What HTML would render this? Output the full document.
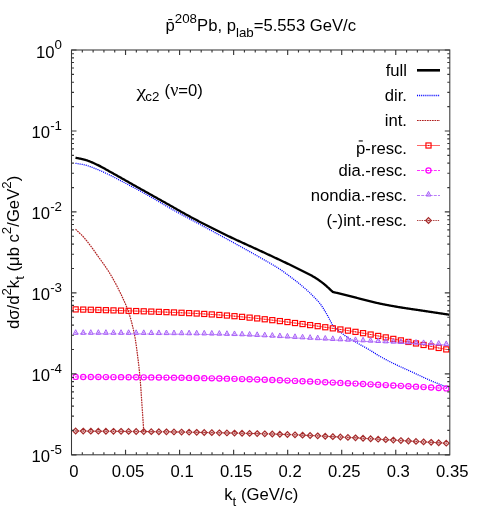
<!DOCTYPE html>
<html><head><meta charset="utf-8"><title>plot</title>
<style>html,body{margin:0;padding:0;background:#fff;font-family:"Liberation Sans",sans-serif}</style></head>
<body>
<svg width="480" height="525" viewBox="0 0 480 525" style="display:block;will-change:transform">
<rect width="480" height="525" fill="#fff"/>
<path d="M75.50 157.70 L76.00 157.81 L76.50 157.92 L77.00 158.02 L77.50 158.12 L78.00 158.22 L78.50 158.32 L79.00 158.42 L79.50 158.52 L80.00 158.63 L80.50 158.73 L81.00 158.83 L81.50 158.94 L82.00 159.05 L82.50 159.16 L83.00 159.28 L83.50 159.40 L84.00 159.53 L84.50 159.66 L85.00 159.80 L85.50 159.95 L86.00 160.10 L86.50 160.26 L87.00 160.42 L87.50 160.60 L88.00 160.78 L88.50 160.96 L89.00 161.15 L89.50 161.35 L90.00 161.54 L90.50 161.75 L91.00 161.96 L91.50 162.17 L92.00 162.39 L92.50 162.60 L93.00 162.83 L93.50 163.05 L94.00 163.28 L94.50 163.51 L95.00 163.74 L95.50 163.97 L96.00 164.20 L96.50 164.43 L97.00 164.67 L97.50 164.90 L98.00 165.14 L98.50 165.38 L99.00 165.62 L99.50 165.88 L100.00 166.13 L100.50 166.39 L101.00 166.66 L101.50 166.93 L102.00 167.20 L102.50 167.47 L103.00 167.75 L103.50 168.03 L104.00 168.31 L104.50 168.59 L105.00 168.87 L105.50 169.16 L106.00 169.44 L106.50 169.73 L107.00 170.01 L107.50 170.30 L108.00 170.58 L108.50 170.86 L109.00 171.14 L109.50 171.42 L110.00 171.70 L110.50 171.98 L111.00 172.25 L111.50 172.53 L112.00 172.81 L112.50 173.09 L113.00 173.36 L113.50 173.64 L114.00 173.92 L114.50 174.20 L115.00 174.48 L115.50 174.76 L116.00 175.04 L116.50 175.32 L117.00 175.60 L117.50 175.88 L118.00 176.16 L118.50 176.45 L119.00 176.73 L119.50 177.01 L120.00 177.29 L120.50 177.57 L121.00 177.85 L121.50 178.14 L122.00 178.42 L122.50 178.70 L123.00 178.98 L123.50 179.26 L124.00 179.55 L124.50 179.83 L125.00 180.12 L125.50 180.40 L126.00 180.68 L126.50 180.97 L127.00 181.25 L127.50 181.54 L128.00 181.82 L128.50 182.11 L129.00 182.39 L129.50 182.68 L130.00 182.96 L130.50 183.25 L131.00 183.53 L131.50 183.82 L132.00 184.10 L132.50 184.38 L133.00 184.67 L133.50 184.95 L134.00 185.24 L134.50 185.52 L135.00 185.80 L135.50 186.08 L136.00 186.36 L136.50 186.64 L137.00 186.93 L137.50 187.21 L138.00 187.49 L138.50 187.77 L139.00 188.05 L139.50 188.33 L140.00 188.61 L140.50 188.89 L141.00 189.17 L141.50 189.45 L142.00 189.73 L142.50 190.00 L143.00 190.28 L143.50 190.56 L144.00 190.84 L144.50 191.12 L145.00 191.40 L145.50 191.68 L146.00 191.96 L146.50 192.24 L147.00 192.52 L147.50 192.80 L148.00 193.08 L148.50 193.36 L149.00 193.64 L149.50 193.92 L150.00 194.20 L150.50 194.48 L151.00 194.76 L151.50 195.04 L152.00 195.32 L152.50 195.60 L153.00 195.88 L153.50 196.16 L154.00 196.44 L154.50 196.72 L155.00 197.00 L155.50 197.28 L156.00 197.56 L156.50 197.84 L157.00 198.12 L157.50 198.40 L158.00 198.68 L158.50 198.96 L159.00 199.24 L159.50 199.52 L160.00 199.80 L160.50 200.08 L161.00 200.36 L161.50 200.64 L162.00 200.92 L162.50 201.20 L163.00 201.48 L163.50 201.75 L164.00 202.03 L164.50 202.31 L165.00 202.59 L165.50 202.87 L166.00 203.15 L166.50 203.43 L167.00 203.71 L167.50 203.99 L168.00 204.27 L168.50 204.55 L169.00 204.83 L169.50 205.11 L170.00 205.39 L170.50 205.67 L171.00 205.95 L171.50 206.23 L172.00 206.52 L172.50 206.80 L173.00 207.08 L173.50 207.37 L174.00 207.66 L174.50 207.94 L175.00 208.23 L175.50 208.52 L176.00 208.81 L176.50 209.10 L177.00 209.39 L177.50 209.68 L178.00 209.96 L178.50 210.25 L179.00 210.54 L179.50 210.82 L180.00 211.10 L180.50 211.38 L181.00 211.66 L181.50 211.94 L182.00 212.22 L182.50 212.50 L183.00 212.78 L183.50 213.06 L184.00 213.33 L184.50 213.61 L185.00 213.89 L185.50 214.16 L186.00 214.44 L186.50 214.72 L187.00 214.99 L187.50 215.26 L188.00 215.54 L188.50 215.81 L189.00 216.08 L189.50 216.36 L190.00 216.63 L190.50 216.90 L191.00 217.17 L191.50 217.44 L192.00 217.71 L192.50 217.97 L193.00 218.24 L193.50 218.51 L194.00 218.77 L194.50 219.04 L195.00 219.30 L195.50 219.56 L196.00 219.83 L196.50 220.09 L197.00 220.35 L197.50 220.61 L198.00 220.87 L198.50 221.14 L199.00 221.40 L199.50 221.66 L200.00 221.92 L200.50 222.18 L201.00 222.44 L201.50 222.69 L202.00 222.95 L202.50 223.21 L203.00 223.47 L203.50 223.73 L204.00 223.98 L204.50 224.24 L205.00 224.50 L205.50 224.75 L206.00 225.01 L206.50 225.27 L207.00 225.52 L207.50 225.78 L208.00 226.03 L208.50 226.28 L209.00 226.54 L209.50 226.79 L210.00 227.04 L210.50 227.30 L211.00 227.55 L211.50 227.80 L212.00 228.05 L212.50 228.30 L213.00 228.56 L213.50 228.81 L214.00 229.06 L214.50 229.31 L215.00 229.56 L215.50 229.81 L216.00 230.06 L216.50 230.30 L217.00 230.55 L217.50 230.80 L218.00 231.05 L218.50 231.30 L219.00 231.54 L219.50 231.79 L220.00 232.04 L220.50 232.28 L221.00 232.53 L221.50 232.77 L222.00 233.02 L222.50 233.26 L223.00 233.51 L223.50 233.75 L224.00 234.00 L224.50 234.24 L225.00 234.48 L225.50 234.73 L226.00 234.97 L226.50 235.21 L227.00 235.45 L227.50 235.70 L228.00 235.94 L228.50 236.18 L229.00 236.42 L229.50 236.66 L230.00 236.90 L230.50 237.14 L231.00 237.38 L231.50 237.62 L232.00 237.85 L232.50 238.09 L233.00 238.33 L233.50 238.56 L234.00 238.80 L234.50 239.03 L235.00 239.27 L235.50 239.50 L236.00 239.73 L236.50 239.96 L237.00 240.20 L237.50 240.43 L238.00 240.66 L238.50 240.89 L239.00 241.12 L239.50 241.35 L240.00 241.58 L240.50 241.81 L241.00 242.04 L241.50 242.26 L242.00 242.49 L242.50 242.72 L243.00 242.95 L243.50 243.17 L244.00 243.40 L244.50 243.63 L245.00 243.86 L245.50 244.08 L246.00 244.31 L246.50 244.54 L247.00 244.76 L247.50 244.99 L248.00 245.22 L248.50 245.44 L249.00 245.67 L249.50 245.90 L250.00 246.12 L250.50 246.35 L251.00 246.58 L251.50 246.80 L252.00 247.03 L252.50 247.26 L253.00 247.48 L253.50 247.71 L254.00 247.94 L254.50 248.17 L255.00 248.40 L255.50 248.63 L256.00 248.85 L256.50 249.08 L257.00 249.31 L257.50 249.54 L258.00 249.77 L258.50 250.00 L259.00 250.24 L259.50 250.47 L260.00 250.70 L260.50 250.93 L261.00 251.16 L261.50 251.40 L262.00 251.63 L262.50 251.86 L263.00 252.09 L263.50 252.33 L264.00 252.56 L264.50 252.79 L265.00 253.02 L265.50 253.26 L266.00 253.49 L266.50 253.72 L267.00 253.95 L267.50 254.19 L268.00 254.42 L268.50 254.65 L269.00 254.88 L269.50 255.12 L270.00 255.35 L270.50 255.58 L271.00 255.82 L271.50 256.05 L272.00 256.28 L272.50 256.51 L273.00 256.75 L273.50 256.98 L274.00 257.22 L274.50 257.45 L275.00 257.68 L275.50 257.92 L276.00 258.15 L276.50 258.39 L277.00 258.62 L277.50 258.86 L278.00 259.09 L278.50 259.33 L279.00 259.56 L279.50 259.80 L280.00 260.03 L280.50 260.27 L281.00 260.50 L281.50 260.74 L282.00 260.98 L282.50 261.21 L283.00 261.45 L283.50 261.69 L284.00 261.93 L284.50 262.16 L285.00 262.40 L285.50 262.64 L286.00 262.88 L286.50 263.12 L287.00 263.36 L287.50 263.60 L288.00 263.84 L288.50 264.08 L289.00 264.32 L289.50 264.56 L290.00 264.80 L290.50 265.04 L291.00 265.28 L291.50 265.52 L292.00 265.77 L292.50 266.01 L293.00 266.25 L293.50 266.49 L294.00 266.73 L294.50 266.97 L295.00 267.22 L295.50 267.46 L296.00 267.70 L296.50 267.95 L297.00 268.19 L297.50 268.44 L298.00 268.68 L298.50 268.93 L299.00 269.17 L299.50 269.42 L300.00 269.67 L300.50 269.92 L301.00 270.17 L301.50 270.42 L302.00 270.67 L302.50 270.92 L303.00 271.18 L303.50 271.43 L304.00 271.69 L304.50 271.94 L305.00 272.20 L305.50 272.46 L306.00 272.71 L306.50 272.97 L307.00 273.23 L307.50 273.48 L308.00 273.74 L308.50 274.00 L309.00 274.26 L309.50 274.52 L310.00 274.78 L310.50 275.04 L311.00 275.31 L311.50 275.58 L312.00 275.86 L312.50 276.13 L313.00 276.42 L313.50 276.70 L314.00 277.00 L314.50 277.30 L315.00 277.60 L315.50 277.91 L316.00 278.23 L316.50 278.55 L317.00 278.88 L317.50 279.21 L318.00 279.55 L318.50 279.89 L319.00 280.24 L319.50 280.59 L320.00 280.95 L320.50 281.32 L321.00 281.69 L321.50 282.06 L322.00 282.44 L322.50 282.82 L323.00 283.21 L323.50 283.60 L324.00 284.00 L324.50 284.41 L325.00 284.83 L325.50 285.25 L326.00 285.69 L326.50 286.13 L327.00 286.58 L327.50 287.04 L328.00 287.50 L328.50 287.96 L329.00 288.43 L329.50 288.89 L330.00 289.36 L330.50 289.83 L331.00 290.30 L331.50 290.76 L332.00 291.22 L332.50 291.67 L332.75 291.90 L332.75 291.90 L333.25 292.02 L333.75 292.14 L334.25 292.26 L334.75 292.39 L335.25 292.51 L335.75 292.63 L336.25 292.75 L336.75 292.87 L337.25 292.99 L337.75 293.11 L338.25 293.23 L338.75 293.35 L339.25 293.47 L339.75 293.59 L340.25 293.71 L340.75 293.83 L341.25 293.95 L341.75 294.07 L342.25 294.19 L342.75 294.31 L343.25 294.44 L343.75 294.56 L344.25 294.68 L344.75 294.80 L345.25 294.92 L345.75 295.05 L346.25 295.17 L346.75 295.29 L347.25 295.41 L347.75 295.54 L348.25 295.66 L348.75 295.79 L349.25 295.91 L349.75 296.04 L350.25 296.16 L350.75 296.29 L351.25 296.42 L351.75 296.55 L352.25 296.67 L352.75 296.80 L353.25 296.93 L353.75 297.06 L354.25 297.20 L354.75 297.33 L355.25 297.46 L355.75 297.59 L356.25 297.72 L356.75 297.86 L357.25 297.99 L357.75 298.12 L358.25 298.25 L358.75 298.38 L359.25 298.52 L359.75 298.65 L360.25 298.78 L360.75 298.91 L361.25 299.04 L361.75 299.17 L362.25 299.30 L362.75 299.43 L363.25 299.56 L363.75 299.69 L364.25 299.81 L364.75 299.94 L365.25 300.06 L365.75 300.19 L366.25 300.31 L366.75 300.44 L367.25 300.56 L367.75 300.69 L368.25 300.82 L368.75 300.94 L369.25 301.07 L369.75 301.19 L370.25 301.32 L370.75 301.44 L371.25 301.57 L371.75 301.69 L372.25 301.81 L372.75 301.93 L373.25 302.06 L373.75 302.18 L374.25 302.30 L374.75 302.42 L375.25 302.54 L375.75 302.65 L376.25 302.77 L376.75 302.88 L377.25 303.00 L377.75 303.11 L378.25 303.22 L378.75 303.33 L379.25 303.44 L379.75 303.55 L380.25 303.65 L380.75 303.76 L381.25 303.86 L381.75 303.96 L382.25 304.07 L382.75 304.17 L383.25 304.27 L383.75 304.37 L384.25 304.47 L384.75 304.57 L385.25 304.66 L385.75 304.76 L386.25 304.86 L386.75 304.95 L387.25 305.05 L387.75 305.14 L388.25 305.24 L388.75 305.33 L389.25 305.42 L389.75 305.52 L390.25 305.61 L390.75 305.70 L391.25 305.79 L391.75 305.88 L392.25 305.97 L392.75 306.06 L393.25 306.15 L393.75 306.23 L394.25 306.32 L394.75 306.41 L395.25 306.50 L395.75 306.58 L396.25 306.67 L396.75 306.75 L397.25 306.84 L397.75 306.92 L398.25 307.01 L398.75 307.09 L399.25 307.18 L399.75 307.26 L400.25 307.34 L400.75 307.42 L401.25 307.50 L401.75 307.59 L402.25 307.67 L402.75 307.74 L403.25 307.82 L403.75 307.90 L404.25 307.98 L404.75 308.06 L405.25 308.13 L405.75 308.21 L406.25 308.28 L406.75 308.36 L407.25 308.43 L407.75 308.51 L408.25 308.58 L408.75 308.66 L409.25 308.73 L409.75 308.80 L410.25 308.87 L410.75 308.95 L411.25 309.02 L411.75 309.09 L412.25 309.17 L412.75 309.24 L413.25 309.31 L413.75 309.38 L414.25 309.46 L414.75 309.53 L415.25 309.60 L415.75 309.67 L416.25 309.75 L416.75 309.82 L417.25 309.89 L417.75 309.97 L418.25 310.04 L418.75 310.11 L419.25 310.19 L419.75 310.26 L420.25 310.34 L420.75 310.41 L421.25 310.49 L421.75 310.56 L422.25 310.64 L422.75 310.71 L423.25 310.79 L423.75 310.86 L424.25 310.94 L424.75 311.01 L425.25 311.09 L425.75 311.17 L426.25 311.24 L426.75 311.32 L427.25 311.39 L427.75 311.47 L428.25 311.54 L428.75 311.62 L429.25 311.69 L429.75 311.77 L430.25 311.84 L430.75 311.92 L431.25 311.99 L431.75 312.07 L432.25 312.14 L432.75 312.22 L433.25 312.30 L433.75 312.37 L434.25 312.45 L434.75 312.52 L435.25 312.60 L435.75 312.67 L436.25 312.75 L436.75 312.82 L437.25 312.90 L437.75 312.97 L438.25 313.05 L438.75 313.12 L439.25 313.20 L439.75 313.28 L440.25 313.35 L440.75 313.43 L441.25 313.50 L441.75 313.58 L442.25 313.65 L442.75 313.73 L443.25 313.80 L443.75 313.88 L444.25 313.95 L444.75 314.03 L445.25 314.10 L445.75 314.18 L446.25 314.26 L446.75 314.33 L447.25 314.41 L447.75 314.48 L448.25 314.56 L448.75 314.63 L449.25 314.71" fill="none" stroke="#000" stroke-width="2.3" stroke-linejoin="round"/>
<path d="M75.50 163.30 L76.00 163.39 L76.50 163.47 L77.00 163.56 L77.50 163.64 L78.00 163.72 L78.50 163.80 L79.00 163.88 L79.50 163.96 L80.00 164.04 L80.50 164.12 L81.00 164.21 L81.50 164.29 L82.00 164.38 L82.50 164.48 L83.00 164.57 L83.50 164.67 L84.00 164.78 L84.50 164.89 L85.00 165.00 L85.50 165.12 L86.00 165.25 L86.50 165.39 L87.00 165.53 L87.50 165.68 L88.00 165.84 L88.50 166.00 L89.00 166.17 L89.50 166.35 L90.00 166.53 L90.50 166.71 L91.00 166.89 L91.50 167.08 L92.00 167.28 L92.50 167.47 L93.00 167.67 L93.50 167.87 L94.00 168.08 L94.50 168.28 L95.00 168.48 L95.50 168.69 L96.00 168.89 L96.50 169.09 L97.00 169.30 L97.50 169.50 L98.00 169.70 L98.50 169.91 L99.00 170.12 L99.50 170.33 L100.00 170.54 L100.50 170.76 L101.00 170.98 L101.50 171.20 L102.00 171.42 L102.50 171.65 L103.00 171.87 L103.50 172.10 L104.00 172.34 L104.50 172.57 L105.00 172.80 L105.50 173.04 L106.00 173.27 L106.50 173.51 L107.00 173.75 L107.50 173.99 L108.00 174.23 L108.50 174.47 L109.00 174.71 L109.50 174.96 L110.00 175.20 L110.50 175.44 L111.00 175.69 L111.50 175.94 L112.00 176.19 L112.50 176.45 L113.00 176.70 L113.50 176.96 L114.00 177.22 L114.50 177.48 L115.00 177.74 L115.50 178.00 L116.00 178.26 L116.50 178.53 L117.00 178.79 L117.50 179.06 L118.00 179.32 L118.50 179.59 L119.00 179.86 L119.50 180.12 L120.00 180.39 L120.50 180.65 L121.00 180.91 L121.50 181.18 L122.00 181.44 L122.50 181.70 L123.00 181.96 L123.50 182.22 L124.00 182.48 L124.50 182.74 L125.00 182.99 L125.50 183.25 L126.00 183.51 L126.50 183.77 L127.00 184.02 L127.50 184.28 L128.00 184.54 L128.50 184.80 L129.00 185.05 L129.50 185.31 L130.00 185.57 L130.50 185.83 L131.00 186.09 L131.50 186.35 L132.00 186.61 L132.50 186.87 L133.00 187.14 L133.50 187.40 L134.00 187.67 L134.50 187.93 L135.00 188.20 L135.50 188.47 L136.00 188.74 L136.50 189.01 L137.00 189.28 L137.50 189.55 L138.00 189.82 L138.50 190.09 L139.00 190.36 L139.50 190.64 L140.00 190.91 L140.50 191.19 L141.00 191.46 L141.50 191.74 L142.00 192.01 L142.50 192.29 L143.00 192.57 L143.50 192.84 L144.00 193.12 L144.50 193.40 L145.00 193.68 L145.50 193.96 L146.00 194.24 L146.50 194.52 L147.00 194.80 L147.50 195.09 L148.00 195.37 L148.50 195.65 L149.00 195.93 L149.50 196.22 L150.00 196.50 L150.50 196.78 L151.00 197.07 L151.50 197.36 L152.00 197.65 L152.50 197.94 L153.00 198.23 L153.50 198.52 L154.00 198.81 L154.50 199.10 L155.00 199.40 L155.50 199.69 L156.00 199.99 L156.50 200.28 L157.00 200.58 L157.50 200.87 L158.00 201.17 L158.50 201.47 L159.00 201.76 L159.50 202.06 L160.00 202.36 L160.50 202.66 L161.00 202.95 L161.50 203.25 L162.00 203.55 L162.50 203.84 L163.00 204.14 L163.50 204.43 L164.00 204.73 L164.50 205.02 L165.00 205.32 L165.50 205.61 L166.00 205.90 L166.50 206.19 L167.00 206.48 L167.50 206.77 L168.00 207.06 L168.50 207.35 L169.00 207.63 L169.50 207.92 L170.00 208.20 L170.50 208.48 L171.00 208.76 L171.50 209.04 L172.00 209.32 L172.50 209.60 L173.00 209.88 L173.50 210.16 L174.00 210.44 L174.50 210.72 L175.00 210.99 L175.50 211.27 L176.00 211.54 L176.50 211.82 L177.00 212.09 L177.50 212.37 L178.00 212.64 L178.50 212.91 L179.00 213.19 L179.50 213.46 L180.00 213.73 L180.50 214.00 L181.00 214.28 L181.50 214.55 L182.00 214.82 L182.50 215.09 L183.00 215.36 L183.50 215.63 L184.00 215.90 L184.50 216.17 L185.00 216.44 L185.50 216.71 L186.00 216.97 L186.50 217.24 L187.00 217.51 L187.50 217.78 L188.00 218.05 L188.50 218.32 L189.00 218.59 L189.50 218.85 L190.00 219.12 L190.50 219.39 L191.00 219.66 L191.50 219.93 L192.00 220.19 L192.50 220.46 L193.00 220.73 L193.50 221.00 L194.00 221.27 L194.50 221.54 L195.00 221.80 L195.50 222.07 L196.00 222.34 L196.50 222.61 L197.00 222.88 L197.50 223.15 L198.00 223.42 L198.50 223.69 L199.00 223.96 L199.50 224.23 L200.00 224.50 L200.50 224.77 L201.00 225.04 L201.50 225.31 L202.00 225.58 L202.50 225.85 L203.00 226.12 L203.50 226.39 L204.00 226.66 L204.50 226.93 L205.00 227.20 L205.50 227.47 L206.00 227.74 L206.50 228.01 L207.00 228.27 L207.50 228.54 L208.00 228.81 L208.50 229.08 L209.00 229.35 L209.50 229.62 L210.00 229.89 L210.50 230.15 L211.00 230.42 L211.50 230.69 L212.00 230.96 L212.50 231.23 L213.00 231.50 L213.50 231.76 L214.00 232.03 L214.50 232.30 L215.00 232.57 L215.50 232.84 L216.00 233.11 L216.50 233.38 L217.00 233.64 L217.50 233.91 L218.00 234.18 L218.50 234.45 L219.00 234.72 L219.50 234.99 L220.00 235.26 L220.50 235.53 L221.00 235.80 L221.50 236.07 L222.00 236.34 L222.50 236.61 L223.00 236.88 L223.50 237.15 L224.00 237.42 L224.50 237.70 L225.00 237.97 L225.50 238.24 L226.00 238.51 L226.50 238.78 L227.00 239.06 L227.50 239.33 L228.00 239.60 L228.50 239.88 L229.00 240.15 L229.50 240.43 L230.00 240.70 L230.50 240.97 L231.00 241.25 L231.50 241.53 L232.00 241.80 L232.50 242.08 L233.00 242.35 L233.50 242.63 L234.00 242.90 L234.50 243.18 L235.00 243.45 L235.50 243.73 L236.00 244.01 L236.50 244.28 L237.00 244.56 L237.50 244.84 L238.00 245.11 L238.50 245.39 L239.00 245.67 L239.50 245.94 L240.00 246.22 L240.50 246.50 L241.00 246.78 L241.50 247.05 L242.00 247.33 L242.50 247.61 L243.00 247.89 L243.50 248.17 L244.00 248.45 L244.50 248.72 L245.00 249.00 L245.50 249.28 L246.00 249.56 L246.50 249.84 L247.00 250.12 L247.50 250.40 L248.00 250.68 L248.50 250.96 L249.00 251.25 L249.50 251.53 L250.00 251.81 L250.50 252.09 L251.00 252.37 L251.50 252.65 L252.00 252.94 L252.50 253.22 L253.00 253.50 L253.50 253.79 L254.00 254.07 L254.50 254.35 L255.00 254.64 L255.50 254.92 L256.00 255.21 L256.50 255.49 L257.00 255.78 L257.50 256.07 L258.00 256.35 L258.50 256.64 L259.00 256.93 L259.50 257.21 L260.00 257.50 L260.50 257.79 L261.00 258.07 L261.50 258.36 L262.00 258.64 L262.50 258.93 L263.00 259.21 L263.50 259.50 L264.00 259.78 L264.50 260.06 L265.00 260.35 L265.50 260.63 L266.00 260.91 L266.50 261.20 L267.00 261.48 L267.50 261.77 L268.00 262.05 L268.50 262.34 L269.00 262.62 L269.50 262.91 L270.00 263.20 L270.50 263.49 L271.00 263.78 L271.50 264.07 L272.00 264.36 L272.50 264.66 L273.00 264.95 L273.50 265.25 L274.00 265.55 L274.50 265.85 L275.00 266.15 L275.50 266.46 L276.00 266.76 L276.50 267.07 L277.00 267.38 L277.50 267.70 L278.00 268.01 L278.50 268.33 L279.00 268.65 L279.50 268.97 L280.00 269.30 L280.50 269.63 L281.00 269.97 L281.50 270.30 L282.00 270.65 L282.50 271.00 L283.00 271.35 L283.50 271.70 L284.00 272.06 L284.50 272.42 L285.00 272.78 L285.50 273.15 L286.00 273.52 L286.50 273.89 L287.00 274.26 L287.50 274.63 L288.00 275.00 L288.50 275.38 L289.00 275.75 L289.50 276.13 L290.00 276.50 L290.50 276.87 L291.00 277.25 L291.50 277.63 L292.00 278.00 L292.50 278.38 L293.00 278.76 L293.50 279.14 L294.00 279.52 L294.50 279.90 L295.00 280.28 L295.50 280.67 L296.00 281.05 L296.50 281.44 L297.00 281.83 L297.50 282.22 L298.00 282.62 L298.50 283.02 L299.00 283.42 L299.50 283.82 L300.00 284.22 L300.50 284.63 L301.00 285.04 L301.50 285.46 L302.00 285.88 L302.50 286.30 L303.00 286.73 L303.50 287.15 L304.00 287.59 L304.50 288.02 L305.00 288.46 L305.50 288.90 L306.00 289.35 L306.50 289.80 L307.00 290.25 L307.50 290.71 L308.00 291.17 L308.50 291.63 L309.00 292.10 L309.50 292.58 L310.00 293.05 L310.50 293.53 L311.00 294.02 L311.50 294.51 L312.00 295.00 L312.50 295.49 L313.00 295.99 L313.50 296.48 L314.00 296.98 L314.50 297.48 L315.00 297.98 L315.50 298.49 L316.00 299.01 L316.50 299.54 L317.00 300.08 L317.50 300.63 L318.00 301.19 L318.50 301.77 L319.00 302.36 L319.50 302.97 L320.00 303.60 L320.50 304.26 L321.00 304.94 L321.50 305.65 L322.00 306.39 L322.50 307.15 L323.00 307.93 L323.50 308.72 L324.00 309.53 L324.50 310.36 L325.00 311.19 L325.50 312.03 L326.00 312.88 L326.50 313.73 L327.00 314.60 L327.50 315.50 L328.00 316.42 L328.50 317.35 L329.00 318.30 L329.50 319.25 L330.00 320.22 L330.50 321.18 L331.00 322.14 L331.50 323.10 L332.00 324.06 L332.50 325.00 L332.50 325.00 L333.00 325.43 L333.50 325.86 L334.00 326.30 L334.50 326.74 L335.00 327.18 L335.50 327.62 L336.00 328.07 L336.50 328.52 L337.00 328.97 L337.50 329.41 L338.00 329.86 L338.50 330.31 L339.00 330.75 L339.50 331.19 L340.00 331.62 L340.50 332.05 L341.00 332.48 L341.50 332.90 L342.00 333.31 L342.50 333.71 L343.00 334.11 L343.50 334.50 L344.00 334.87 L344.50 335.24 L345.00 335.60 L345.50 335.95 L346.00 336.29 L346.50 336.62 L347.00 336.95 L347.50 337.27 L348.00 337.59 L348.50 337.90 L349.00 338.20 L349.50 338.51 L350.00 338.80 L350.50 339.10 L351.00 339.39 L351.50 339.68 L352.00 339.97 L352.50 340.25 L353.00 340.54 L353.50 340.82 L354.00 341.10 L354.50 341.38 L355.00 341.67 L355.50 341.95 L356.00 342.24 L356.50 342.52 L357.00 342.81 L357.50 343.10 L358.00 343.39 L358.50 343.68 L359.00 343.97 L359.50 344.25 L360.00 344.53 L360.50 344.82 L361.00 345.10 L361.50 345.38 L362.00 345.66 L362.50 345.94 L363.00 346.22 L363.50 346.49 L364.00 346.77 L364.50 347.05 L365.00 347.33 L365.50 347.61 L366.00 347.89 L366.50 348.18 L367.00 348.46 L367.50 348.74 L368.00 349.03 L368.50 349.32 L369.00 349.61 L369.50 349.90 L370.00 350.20 L370.50 350.50 L371.00 350.80 L371.50 351.11 L372.00 351.42 L372.50 351.74 L373.00 352.05 L373.50 352.37 L374.00 352.69 L374.50 353.01 L375.00 353.33 L375.50 353.65 L376.00 353.97 L376.50 354.28 L377.00 354.60 L377.50 354.91 L378.00 355.22 L378.50 355.52 L379.00 355.82 L379.50 356.11 L380.00 356.40 L380.50 356.68 L381.00 356.96 L381.50 357.24 L382.00 357.52 L382.50 357.80 L383.00 358.07 L383.50 358.34 L384.00 358.61 L384.50 358.88 L385.00 359.15 L385.50 359.41 L386.00 359.67 L386.50 359.93 L387.00 360.19 L387.50 360.45 L388.00 360.71 L388.50 360.97 L389.00 361.22 L389.50 361.48 L390.00 361.73 L390.50 361.98 L391.00 362.23 L391.50 362.48 L392.00 362.73 L392.50 362.97 L393.00 363.22 L393.50 363.47 L394.00 363.71 L394.50 363.96 L395.00 364.20 L395.50 364.44 L396.00 364.68 L396.50 364.92 L397.00 365.16 L397.50 365.40 L398.00 365.63 L398.50 365.86 L399.00 366.10 L399.50 366.33 L400.00 366.56 L400.50 366.78 L401.00 367.01 L401.50 367.24 L402.00 367.47 L402.50 367.69 L403.00 367.92 L403.50 368.14 L404.00 368.36 L404.50 368.59 L405.00 368.81 L405.50 369.04 L406.00 369.26 L406.50 369.48 L407.00 369.71 L407.50 369.93 L408.00 370.16 L408.50 370.38 L409.00 370.61 L409.50 370.83 L410.00 371.06 L410.50 371.29 L411.00 371.52 L411.50 371.75 L412.00 371.98 L412.50 372.21 L413.00 372.44 L413.50 372.67 L414.00 372.91 L414.50 373.14 L415.00 373.38 L415.50 373.61 L416.00 373.85 L416.50 374.08 L417.00 374.32 L417.50 374.55 L418.00 374.79 L418.50 375.03 L419.00 375.26 L419.50 375.50 L420.00 375.74 L420.50 375.97 L421.00 376.21 L421.50 376.44 L422.00 376.68 L422.50 376.91 L423.00 377.14 L423.50 377.37 L424.00 377.61 L424.50 377.84 L425.00 378.07 L425.50 378.30 L426.00 378.52 L426.50 378.75 L427.00 378.98 L427.50 379.20 L428.00 379.42 L428.50 379.64 L429.00 379.86 L429.50 380.08 L430.00 380.30 L430.50 380.52 L431.00 380.73 L431.50 380.94 L432.00 381.15 L432.50 381.36 L433.00 381.57 L433.50 381.78 L434.00 381.99 L434.50 382.19 L435.00 382.40 L435.50 382.60 L436.00 382.80 L436.50 383.00 L437.00 383.21 L437.50 383.41 L438.00 383.61 L438.50 383.81 L439.00 384.01 L439.50 384.21 L440.00 384.41 L440.50 384.60 L441.00 384.80 L441.50 385.00 L442.00 385.20 L442.50 385.40 L443.00 385.60 L443.50 385.80 L444.00 385.99 L444.50 386.19 L445.00 386.39 L445.50 386.59 L446.00 386.79 L446.50 387.00 L447.00 387.20 L447.50 387.40" fill="none" stroke="#0000ff" stroke-width="1.3" stroke-dasharray="1.05 1.03"/>
<path d="M75.50 229.20 L75.75 229.44 L76.00 229.68 L76.25 229.92 L76.50 230.16 L76.75 230.40 L77.00 230.63 L77.25 230.87 L77.50 231.10 L77.75 231.34 L78.00 231.57 L78.25 231.80 L78.50 232.04 L78.75 232.27 L79.00 232.51 L79.25 232.74 L79.50 232.98 L79.75 233.21 L80.00 233.45 L80.25 233.69 L80.50 233.93 L80.75 234.18 L81.00 234.42 L81.25 234.67 L81.50 234.92 L81.75 235.17 L82.00 235.42 L82.25 235.68 L82.50 235.94 L82.75 236.21 L83.00 236.47 L83.25 236.75 L83.50 237.02 L83.75 237.30 L84.00 237.58 L84.25 237.87 L84.50 238.16 L84.75 238.45 L85.00 238.75 L85.25 239.05 L85.50 239.35 L85.75 239.65 L86.00 239.96 L86.25 240.27 L86.50 240.58 L86.75 240.89 L87.00 241.21 L87.25 241.53 L87.50 241.85 L87.75 242.17 L88.00 242.49 L88.25 242.82 L88.50 243.14 L88.75 243.47 L89.00 243.80 L89.25 244.12 L89.50 244.45 L89.75 244.78 L90.00 245.11 L90.25 245.44 L90.50 245.77 L90.75 246.10 L91.00 246.43 L91.25 246.76 L91.50 247.10 L91.75 247.43 L92.00 247.77 L92.25 248.11 L92.50 248.45 L92.75 248.80 L93.00 249.14 L93.25 249.49 L93.50 249.84 L93.75 250.19 L94.00 250.54 L94.25 250.89 L94.50 251.24 L94.75 251.59 L95.00 251.95 L95.25 252.30 L95.50 252.65 L95.75 253.01 L96.00 253.37 L96.25 253.72 L96.50 254.08 L96.75 254.43 L97.00 254.79 L97.25 255.14 L97.50 255.50 L97.75 255.85 L98.00 256.21 L98.25 256.56 L98.50 256.91 L98.75 257.26 L99.00 257.61 L99.25 257.96 L99.50 258.31 L99.75 258.66 L100.00 259.01 L100.25 259.35 L100.50 259.70 L100.75 260.05 L101.00 260.40 L101.25 260.74 L101.50 261.09 L101.75 261.44 L102.00 261.79 L102.25 262.14 L102.50 262.48 L102.75 262.83 L103.00 263.18 L103.25 263.54 L103.50 263.89 L103.75 264.24 L104.00 264.60 L104.25 264.95 L104.50 265.31 L104.75 265.67 L105.00 266.03 L105.25 266.39 L105.50 266.75 L105.75 267.12 L106.00 267.49 L106.25 267.86 L106.50 268.23 L106.75 268.60 L107.00 268.98 L107.25 269.35 L107.50 269.74 L107.75 270.12 L108.00 270.50 L108.25 270.89 L108.50 271.28 L108.75 271.68 L109.00 272.08 L109.25 272.48 L109.50 272.88 L109.75 273.29 L110.00 273.70 L110.25 274.11 L110.50 274.53 L110.75 274.95 L111.00 275.37 L111.25 275.79 L111.50 276.22 L111.75 276.65 L112.00 277.08 L112.25 277.51 L112.50 277.95 L112.75 278.39 L113.00 278.83 L113.25 279.28 L113.50 279.72 L113.75 280.17 L114.00 280.62 L114.25 281.08 L114.50 281.53 L114.75 281.99 L115.00 282.46 L115.25 282.92 L115.50 283.39 L115.75 283.86 L116.00 284.33 L116.25 284.80 L116.50 285.28 L116.75 285.76 L117.00 286.24 L117.25 286.73 L117.50 287.21 L117.75 287.70 L118.00 288.20 L118.25 288.69 L118.50 289.19 L118.75 289.69 L119.00 290.19 L119.25 290.70 L119.50 291.21 L119.75 291.72 L120.00 292.23 L120.25 292.74 L120.50 293.26 L120.75 293.78 L121.00 294.31 L121.25 294.83 L121.50 295.36 L121.75 295.89 L122.00 296.43 L122.25 296.96 L122.50 297.50 L122.75 298.04 L123.00 298.58 L123.25 299.12 L123.50 299.66 L123.75 300.20 L124.00 300.74 L124.25 301.29 L124.50 301.85 L124.75 302.40 L125.00 302.97 L125.25 303.54 L125.50 304.11 L125.75 304.70 L126.00 305.29 L126.25 305.90 L126.50 306.51 L126.75 307.14 L127.00 307.78 L127.25 308.43 L127.50 309.09 L127.75 309.77 L128.00 310.47 L128.25 311.18 L128.50 311.90 L128.75 312.65 L129.00 313.41 L129.25 314.18 L129.50 314.97 L129.75 315.77 L130.00 316.59 L130.25 317.43 L130.50 318.28 L130.75 319.15 L131.00 320.04 L131.25 320.95 L131.50 321.87 L131.75 322.83 L132.00 323.80 L132.25 324.79 L132.50 325.81 L132.75 326.86 L133.00 327.93 L133.25 329.02 L133.50 330.15 L133.75 331.30 L134.00 332.48 L134.25 333.69 L134.50 334.93 L134.75 336.20 L135.00 337.50 L135.25 338.88 L135.50 340.38 L135.75 341.98 L136.00 343.67 L136.25 345.44 L136.50 347.27 L136.75 349.16 L137.00 351.08 L137.25 353.03 L137.50 355.00 L137.75 356.98 L138.00 358.98 L138.25 361.03 L138.50 363.12 L138.75 365.28 L139.00 367.52 L139.25 369.85 L139.50 372.28 L139.75 374.83 L140.00 377.50 L140.25 380.39 L140.50 383.53 L140.75 386.88 L141.00 390.39 L141.25 394.01 L141.50 397.68 L141.75 401.36 L142.00 405.00 L142.25 408.64 L142.50 412.36 L142.75 416.13 L143.00 419.94 L143.25 423.76 L143.50 427.57 L143.74 431.20" fill="none" stroke="#b02020" stroke-width="1.2" stroke-dasharray="1.7 0.8"/>
<path d="M75.67 309.40 L83.23 309.58 L90.80 309.76 L98.36 309.96 L105.92 310.17 L113.48 310.38 L121.05 310.60 L128.61 310.83 L136.17 311.07 L143.74 311.31 L151.30 311.57 L158.86 311.85 L166.43 312.14 L173.99 312.44 L181.55 312.77 L189.12 313.12 L196.68 313.52 L204.24 313.95 L211.80 314.43 L219.37 314.95 L226.93 315.53 L234.49 316.18 L242.06 316.87 L249.62 317.62 L257.18 318.42 L264.75 319.27 L272.31 320.15 L279.87 321.08 L287.43 322.04 L295.00 323.03 L302.56 324.05 L310.12 325.10 L317.69 326.16 L325.25 327.25 L332.81 328.35 L340.38 329.46 L347.94 330.62 L355.50 331.85 L363.06 333.16 L370.63 334.53 L378.19 335.95 L385.75 337.40 L393.32 338.89 L400.88 340.40 L408.44 341.93 L416.00 343.45 L423.57 344.97 L431.13 346.48 L438.69 347.96 L446.26 349.40" fill="none" stroke="#ff0000" stroke-width="0.60" />
<rect x="73.12" y="306.85" width="5.10" height="5.10" fill="none" stroke="#ff0000" stroke-width="1.15"/>
<rect x="75.17" y="308.90" width="1" height="1" fill="#ff0000"/>
<rect x="80.68" y="307.03" width="5.10" height="5.10" fill="none" stroke="#ff0000" stroke-width="1.15"/>
<rect x="82.73" y="309.08" width="1" height="1" fill="#ff0000"/>
<rect x="88.25" y="307.21" width="5.10" height="5.10" fill="none" stroke="#ff0000" stroke-width="1.15"/>
<rect x="90.30" y="309.26" width="1" height="1" fill="#ff0000"/>
<rect x="95.81" y="307.41" width="5.10" height="5.10" fill="none" stroke="#ff0000" stroke-width="1.15"/>
<rect x="97.86" y="309.46" width="1" height="1" fill="#ff0000"/>
<rect x="103.37" y="307.62" width="5.10" height="5.10" fill="none" stroke="#ff0000" stroke-width="1.15"/>
<rect x="105.42" y="309.67" width="1" height="1" fill="#ff0000"/>
<rect x="110.94" y="307.83" width="5.10" height="5.10" fill="none" stroke="#ff0000" stroke-width="1.15"/>
<rect x="112.98" y="309.88" width="1" height="1" fill="#ff0000"/>
<rect x="118.50" y="308.05" width="5.10" height="5.10" fill="none" stroke="#ff0000" stroke-width="1.15"/>
<rect x="120.55" y="310.10" width="1" height="1" fill="#ff0000"/>
<rect x="126.06" y="308.28" width="5.10" height="5.10" fill="none" stroke="#ff0000" stroke-width="1.15"/>
<rect x="128.11" y="310.33" width="1" height="1" fill="#ff0000"/>
<rect x="133.62" y="308.52" width="5.10" height="5.10" fill="none" stroke="#ff0000" stroke-width="1.15"/>
<rect x="135.67" y="310.57" width="1" height="1" fill="#ff0000"/>
<rect x="141.19" y="308.76" width="5.10" height="5.10" fill="none" stroke="#ff0000" stroke-width="1.15"/>
<rect x="143.24" y="310.81" width="1" height="1" fill="#ff0000"/>
<rect x="148.75" y="309.02" width="5.10" height="5.10" fill="none" stroke="#ff0000" stroke-width="1.15"/>
<rect x="150.80" y="311.07" width="1" height="1" fill="#ff0000"/>
<rect x="156.31" y="309.30" width="5.10" height="5.10" fill="none" stroke="#ff0000" stroke-width="1.15"/>
<rect x="158.36" y="311.35" width="1" height="1" fill="#ff0000"/>
<rect x="163.88" y="309.59" width="5.10" height="5.10" fill="none" stroke="#ff0000" stroke-width="1.15"/>
<rect x="165.93" y="311.64" width="1" height="1" fill="#ff0000"/>
<rect x="171.44" y="309.89" width="5.10" height="5.10" fill="none" stroke="#ff0000" stroke-width="1.15"/>
<rect x="173.49" y="311.94" width="1" height="1" fill="#ff0000"/>
<rect x="179.00" y="310.22" width="5.10" height="5.10" fill="none" stroke="#ff0000" stroke-width="1.15"/>
<rect x="181.05" y="312.27" width="1" height="1" fill="#ff0000"/>
<rect x="186.56" y="310.57" width="5.10" height="5.10" fill="none" stroke="#ff0000" stroke-width="1.15"/>
<rect x="188.62" y="312.62" width="1" height="1" fill="#ff0000"/>
<rect x="194.13" y="310.97" width="5.10" height="5.10" fill="none" stroke="#ff0000" stroke-width="1.15"/>
<rect x="196.18" y="313.02" width="1" height="1" fill="#ff0000"/>
<rect x="201.69" y="311.40" width="5.10" height="5.10" fill="none" stroke="#ff0000" stroke-width="1.15"/>
<rect x="203.74" y="313.45" width="1" height="1" fill="#ff0000"/>
<rect x="209.25" y="311.88" width="5.10" height="5.10" fill="none" stroke="#ff0000" stroke-width="1.15"/>
<rect x="211.30" y="313.93" width="1" height="1" fill="#ff0000"/>
<rect x="216.82" y="312.40" width="5.10" height="5.10" fill="none" stroke="#ff0000" stroke-width="1.15"/>
<rect x="218.87" y="314.45" width="1" height="1" fill="#ff0000"/>
<rect x="224.38" y="312.98" width="5.10" height="5.10" fill="none" stroke="#ff0000" stroke-width="1.15"/>
<rect x="226.43" y="315.03" width="1" height="1" fill="#ff0000"/>
<rect x="231.94" y="313.63" width="5.10" height="5.10" fill="none" stroke="#ff0000" stroke-width="1.15"/>
<rect x="233.99" y="315.68" width="1" height="1" fill="#ff0000"/>
<rect x="239.51" y="314.32" width="5.10" height="5.10" fill="none" stroke="#ff0000" stroke-width="1.15"/>
<rect x="241.56" y="316.37" width="1" height="1" fill="#ff0000"/>
<rect x="247.07" y="315.07" width="5.10" height="5.10" fill="none" stroke="#ff0000" stroke-width="1.15"/>
<rect x="249.12" y="317.12" width="1" height="1" fill="#ff0000"/>
<rect x="254.63" y="315.87" width="5.10" height="5.10" fill="none" stroke="#ff0000" stroke-width="1.15"/>
<rect x="256.68" y="317.92" width="1" height="1" fill="#ff0000"/>
<rect x="262.19" y="316.72" width="5.10" height="5.10" fill="none" stroke="#ff0000" stroke-width="1.15"/>
<rect x="264.25" y="318.77" width="1" height="1" fill="#ff0000"/>
<rect x="269.76" y="317.60" width="5.10" height="5.10" fill="none" stroke="#ff0000" stroke-width="1.15"/>
<rect x="271.81" y="319.65" width="1" height="1" fill="#ff0000"/>
<rect x="277.32" y="318.53" width="5.10" height="5.10" fill="none" stroke="#ff0000" stroke-width="1.15"/>
<rect x="279.37" y="320.58" width="1" height="1" fill="#ff0000"/>
<rect x="284.88" y="319.49" width="5.10" height="5.10" fill="none" stroke="#ff0000" stroke-width="1.15"/>
<rect x="286.93" y="321.54" width="1" height="1" fill="#ff0000"/>
<rect x="292.45" y="320.48" width="5.10" height="5.10" fill="none" stroke="#ff0000" stroke-width="1.15"/>
<rect x="294.50" y="322.53" width="1" height="1" fill="#ff0000"/>
<rect x="300.01" y="321.50" width="5.10" height="5.10" fill="none" stroke="#ff0000" stroke-width="1.15"/>
<rect x="302.06" y="323.55" width="1" height="1" fill="#ff0000"/>
<rect x="307.57" y="322.55" width="5.10" height="5.10" fill="none" stroke="#ff0000" stroke-width="1.15"/>
<rect x="309.62" y="324.60" width="1" height="1" fill="#ff0000"/>
<rect x="315.14" y="323.61" width="5.10" height="5.10" fill="none" stroke="#ff0000" stroke-width="1.15"/>
<rect x="317.19" y="325.66" width="1" height="1" fill="#ff0000"/>
<rect x="322.70" y="324.70" width="5.10" height="5.10" fill="none" stroke="#ff0000" stroke-width="1.15"/>
<rect x="324.75" y="326.75" width="1" height="1" fill="#ff0000"/>
<rect x="330.26" y="325.80" width="5.10" height="5.10" fill="none" stroke="#ff0000" stroke-width="1.15"/>
<rect x="332.31" y="327.85" width="1" height="1" fill="#ff0000"/>
<rect x="337.82" y="326.91" width="5.10" height="5.10" fill="none" stroke="#ff0000" stroke-width="1.15"/>
<rect x="339.88" y="328.96" width="1" height="1" fill="#ff0000"/>
<rect x="345.39" y="328.07" width="5.10" height="5.10" fill="none" stroke="#ff0000" stroke-width="1.15"/>
<rect x="347.44" y="330.12" width="1" height="1" fill="#ff0000"/>
<rect x="352.95" y="329.30" width="5.10" height="5.10" fill="none" stroke="#ff0000" stroke-width="1.15"/>
<rect x="355.00" y="331.35" width="1" height="1" fill="#ff0000"/>
<rect x="360.51" y="330.61" width="5.10" height="5.10" fill="none" stroke="#ff0000" stroke-width="1.15"/>
<rect x="362.56" y="332.66" width="1" height="1" fill="#ff0000"/>
<rect x="368.08" y="331.98" width="5.10" height="5.10" fill="none" stroke="#ff0000" stroke-width="1.15"/>
<rect x="370.13" y="334.03" width="1" height="1" fill="#ff0000"/>
<rect x="375.64" y="333.40" width="5.10" height="5.10" fill="none" stroke="#ff0000" stroke-width="1.15"/>
<rect x="377.69" y="335.45" width="1" height="1" fill="#ff0000"/>
<rect x="383.20" y="334.85" width="5.10" height="5.10" fill="none" stroke="#ff0000" stroke-width="1.15"/>
<rect x="385.25" y="336.90" width="1" height="1" fill="#ff0000"/>
<rect x="390.77" y="336.34" width="5.10" height="5.10" fill="none" stroke="#ff0000" stroke-width="1.15"/>
<rect x="392.82" y="338.39" width="1" height="1" fill="#ff0000"/>
<rect x="398.33" y="337.85" width="5.10" height="5.10" fill="none" stroke="#ff0000" stroke-width="1.15"/>
<rect x="400.38" y="339.90" width="1" height="1" fill="#ff0000"/>
<rect x="405.89" y="339.38" width="5.10" height="5.10" fill="none" stroke="#ff0000" stroke-width="1.15"/>
<rect x="407.94" y="341.43" width="1" height="1" fill="#ff0000"/>
<rect x="413.45" y="340.90" width="5.10" height="5.10" fill="none" stroke="#ff0000" stroke-width="1.15"/>
<rect x="415.50" y="342.95" width="1" height="1" fill="#ff0000"/>
<rect x="421.02" y="342.42" width="5.10" height="5.10" fill="none" stroke="#ff0000" stroke-width="1.15"/>
<rect x="423.07" y="344.47" width="1" height="1" fill="#ff0000"/>
<rect x="428.58" y="343.93" width="5.10" height="5.10" fill="none" stroke="#ff0000" stroke-width="1.15"/>
<rect x="430.63" y="345.98" width="1" height="1" fill="#ff0000"/>
<rect x="436.14" y="345.41" width="5.10" height="5.10" fill="none" stroke="#ff0000" stroke-width="1.15"/>
<rect x="438.19" y="347.46" width="1" height="1" fill="#ff0000"/>
<rect x="443.71" y="346.85" width="5.10" height="5.10" fill="none" stroke="#ff0000" stroke-width="1.15"/>
<rect x="445.76" y="348.90" width="1" height="1" fill="#ff0000"/>
<path d="M75.67 376.90 L83.23 376.95 L90.80 377.00 L98.36 377.05 L105.92 377.09 L113.48 377.14 L121.05 377.19 L128.61 377.24 L136.17 377.29 L143.74 377.35 L151.30 377.42 L158.86 377.49 L166.43 377.57 L173.99 377.67 L181.55 377.78 L189.12 377.90 L196.68 378.03 L204.24 378.18 L211.80 378.33 L219.37 378.49 L226.93 378.66 L234.49 378.85 L242.06 379.06 L249.62 379.28 L257.18 379.52 L264.75 379.77 L272.31 380.03 L279.87 380.30 L287.43 380.58 L295.00 380.88 L302.56 381.20 L310.12 381.53 L317.69 381.87 L325.25 382.22 L332.81 382.57 L340.38 382.92 L347.94 383.26 L355.50 383.62 L363.06 383.97 L370.63 384.33 L378.19 384.70 L385.75 385.07 L393.32 385.46 L400.88 385.85 L408.44 386.25 L416.00 386.67 L423.57 387.10 L431.13 387.54 L438.69 387.97 L446.26 388.40" fill="none" stroke="#ff00ff" stroke-width="0.80" stroke-dasharray="3 1.2"/>
<circle cx="75.67" cy="376.90" r="2.60" fill="none" stroke="#ff00ff" stroke-width="1.15"/>
<rect x="75.17" y="376.40" width="1" height="1" fill="#ff00ff"/>
<circle cx="83.23" cy="376.95" r="2.60" fill="none" stroke="#ff00ff" stroke-width="1.15"/>
<rect x="82.73" y="376.45" width="1" height="1" fill="#ff00ff"/>
<circle cx="90.80" cy="377.00" r="2.60" fill="none" stroke="#ff00ff" stroke-width="1.15"/>
<rect x="90.30" y="376.50" width="1" height="1" fill="#ff00ff"/>
<circle cx="98.36" cy="377.05" r="2.60" fill="none" stroke="#ff00ff" stroke-width="1.15"/>
<rect x="97.86" y="376.55" width="1" height="1" fill="#ff00ff"/>
<circle cx="105.92" cy="377.09" r="2.60" fill="none" stroke="#ff00ff" stroke-width="1.15"/>
<rect x="105.42" y="376.59" width="1" height="1" fill="#ff00ff"/>
<circle cx="113.48" cy="377.14" r="2.60" fill="none" stroke="#ff00ff" stroke-width="1.15"/>
<rect x="112.98" y="376.64" width="1" height="1" fill="#ff00ff"/>
<circle cx="121.05" cy="377.19" r="2.60" fill="none" stroke="#ff00ff" stroke-width="1.15"/>
<rect x="120.55" y="376.69" width="1" height="1" fill="#ff00ff"/>
<circle cx="128.61" cy="377.24" r="2.60" fill="none" stroke="#ff00ff" stroke-width="1.15"/>
<rect x="128.11" y="376.74" width="1" height="1" fill="#ff00ff"/>
<circle cx="136.17" cy="377.29" r="2.60" fill="none" stroke="#ff00ff" stroke-width="1.15"/>
<rect x="135.67" y="376.79" width="1" height="1" fill="#ff00ff"/>
<circle cx="143.74" cy="377.35" r="2.60" fill="none" stroke="#ff00ff" stroke-width="1.15"/>
<rect x="143.24" y="376.85" width="1" height="1" fill="#ff00ff"/>
<circle cx="151.30" cy="377.42" r="2.60" fill="none" stroke="#ff00ff" stroke-width="1.15"/>
<rect x="150.80" y="376.92" width="1" height="1" fill="#ff00ff"/>
<circle cx="158.86" cy="377.49" r="2.60" fill="none" stroke="#ff00ff" stroke-width="1.15"/>
<rect x="158.36" y="376.99" width="1" height="1" fill="#ff00ff"/>
<circle cx="166.43" cy="377.57" r="2.60" fill="none" stroke="#ff00ff" stroke-width="1.15"/>
<rect x="165.93" y="377.07" width="1" height="1" fill="#ff00ff"/>
<circle cx="173.99" cy="377.67" r="2.60" fill="none" stroke="#ff00ff" stroke-width="1.15"/>
<rect x="173.49" y="377.17" width="1" height="1" fill="#ff00ff"/>
<circle cx="181.55" cy="377.78" r="2.60" fill="none" stroke="#ff00ff" stroke-width="1.15"/>
<rect x="181.05" y="377.28" width="1" height="1" fill="#ff00ff"/>
<circle cx="189.12" cy="377.90" r="2.60" fill="none" stroke="#ff00ff" stroke-width="1.15"/>
<rect x="188.62" y="377.40" width="1" height="1" fill="#ff00ff"/>
<circle cx="196.68" cy="378.03" r="2.60" fill="none" stroke="#ff00ff" stroke-width="1.15"/>
<rect x="196.18" y="377.53" width="1" height="1" fill="#ff00ff"/>
<circle cx="204.24" cy="378.18" r="2.60" fill="none" stroke="#ff00ff" stroke-width="1.15"/>
<rect x="203.74" y="377.68" width="1" height="1" fill="#ff00ff"/>
<circle cx="211.80" cy="378.33" r="2.60" fill="none" stroke="#ff00ff" stroke-width="1.15"/>
<rect x="211.30" y="377.83" width="1" height="1" fill="#ff00ff"/>
<circle cx="219.37" cy="378.49" r="2.60" fill="none" stroke="#ff00ff" stroke-width="1.15"/>
<rect x="218.87" y="377.99" width="1" height="1" fill="#ff00ff"/>
<circle cx="226.93" cy="378.66" r="2.60" fill="none" stroke="#ff00ff" stroke-width="1.15"/>
<rect x="226.43" y="378.16" width="1" height="1" fill="#ff00ff"/>
<circle cx="234.49" cy="378.85" r="2.60" fill="none" stroke="#ff00ff" stroke-width="1.15"/>
<rect x="233.99" y="378.35" width="1" height="1" fill="#ff00ff"/>
<circle cx="242.06" cy="379.06" r="2.60" fill="none" stroke="#ff00ff" stroke-width="1.15"/>
<rect x="241.56" y="378.56" width="1" height="1" fill="#ff00ff"/>
<circle cx="249.62" cy="379.28" r="2.60" fill="none" stroke="#ff00ff" stroke-width="1.15"/>
<rect x="249.12" y="378.78" width="1" height="1" fill="#ff00ff"/>
<circle cx="257.18" cy="379.52" r="2.60" fill="none" stroke="#ff00ff" stroke-width="1.15"/>
<rect x="256.68" y="379.02" width="1" height="1" fill="#ff00ff"/>
<circle cx="264.75" cy="379.77" r="2.60" fill="none" stroke="#ff00ff" stroke-width="1.15"/>
<rect x="264.25" y="379.27" width="1" height="1" fill="#ff00ff"/>
<circle cx="272.31" cy="380.03" r="2.60" fill="none" stroke="#ff00ff" stroke-width="1.15"/>
<rect x="271.81" y="379.53" width="1" height="1" fill="#ff00ff"/>
<circle cx="279.87" cy="380.30" r="2.60" fill="none" stroke="#ff00ff" stroke-width="1.15"/>
<rect x="279.37" y="379.80" width="1" height="1" fill="#ff00ff"/>
<circle cx="287.43" cy="380.58" r="2.60" fill="none" stroke="#ff00ff" stroke-width="1.15"/>
<rect x="286.93" y="380.08" width="1" height="1" fill="#ff00ff"/>
<circle cx="295.00" cy="380.88" r="2.60" fill="none" stroke="#ff00ff" stroke-width="1.15"/>
<rect x="294.50" y="380.38" width="1" height="1" fill="#ff00ff"/>
<circle cx="302.56" cy="381.20" r="2.60" fill="none" stroke="#ff00ff" stroke-width="1.15"/>
<rect x="302.06" y="380.70" width="1" height="1" fill="#ff00ff"/>
<circle cx="310.12" cy="381.53" r="2.60" fill="none" stroke="#ff00ff" stroke-width="1.15"/>
<rect x="309.62" y="381.03" width="1" height="1" fill="#ff00ff"/>
<circle cx="317.69" cy="381.87" r="2.60" fill="none" stroke="#ff00ff" stroke-width="1.15"/>
<rect x="317.19" y="381.37" width="1" height="1" fill="#ff00ff"/>
<circle cx="325.25" cy="382.22" r="2.60" fill="none" stroke="#ff00ff" stroke-width="1.15"/>
<rect x="324.75" y="381.72" width="1" height="1" fill="#ff00ff"/>
<circle cx="332.81" cy="382.57" r="2.60" fill="none" stroke="#ff00ff" stroke-width="1.15"/>
<rect x="332.31" y="382.07" width="1" height="1" fill="#ff00ff"/>
<circle cx="340.38" cy="382.92" r="2.60" fill="none" stroke="#ff00ff" stroke-width="1.15"/>
<rect x="339.88" y="382.42" width="1" height="1" fill="#ff00ff"/>
<circle cx="347.94" cy="383.26" r="2.60" fill="none" stroke="#ff00ff" stroke-width="1.15"/>
<rect x="347.44" y="382.76" width="1" height="1" fill="#ff00ff"/>
<circle cx="355.50" cy="383.62" r="2.60" fill="none" stroke="#ff00ff" stroke-width="1.15"/>
<rect x="355.00" y="383.12" width="1" height="1" fill="#ff00ff"/>
<circle cx="363.06" cy="383.97" r="2.60" fill="none" stroke="#ff00ff" stroke-width="1.15"/>
<rect x="362.56" y="383.47" width="1" height="1" fill="#ff00ff"/>
<circle cx="370.63" cy="384.33" r="2.60" fill="none" stroke="#ff00ff" stroke-width="1.15"/>
<rect x="370.13" y="383.83" width="1" height="1" fill="#ff00ff"/>
<circle cx="378.19" cy="384.70" r="2.60" fill="none" stroke="#ff00ff" stroke-width="1.15"/>
<rect x="377.69" y="384.20" width="1" height="1" fill="#ff00ff"/>
<circle cx="385.75" cy="385.07" r="2.60" fill="none" stroke="#ff00ff" stroke-width="1.15"/>
<rect x="385.25" y="384.57" width="1" height="1" fill="#ff00ff"/>
<circle cx="393.32" cy="385.46" r="2.60" fill="none" stroke="#ff00ff" stroke-width="1.15"/>
<rect x="392.82" y="384.96" width="1" height="1" fill="#ff00ff"/>
<circle cx="400.88" cy="385.85" r="2.60" fill="none" stroke="#ff00ff" stroke-width="1.15"/>
<rect x="400.38" y="385.35" width="1" height="1" fill="#ff00ff"/>
<circle cx="408.44" cy="386.25" r="2.60" fill="none" stroke="#ff00ff" stroke-width="1.15"/>
<rect x="407.94" y="385.75" width="1" height="1" fill="#ff00ff"/>
<circle cx="416.00" cy="386.67" r="2.60" fill="none" stroke="#ff00ff" stroke-width="1.15"/>
<rect x="415.50" y="386.17" width="1" height="1" fill="#ff00ff"/>
<circle cx="423.57" cy="387.10" r="2.60" fill="none" stroke="#ff00ff" stroke-width="1.15"/>
<rect x="423.07" y="386.60" width="1" height="1" fill="#ff00ff"/>
<circle cx="431.13" cy="387.54" r="2.60" fill="none" stroke="#ff00ff" stroke-width="1.15"/>
<rect x="430.63" y="387.04" width="1" height="1" fill="#ff00ff"/>
<circle cx="438.69" cy="387.97" r="2.60" fill="none" stroke="#ff00ff" stroke-width="1.15"/>
<rect x="438.19" y="387.47" width="1" height="1" fill="#ff00ff"/>
<circle cx="446.26" cy="388.40" r="2.60" fill="none" stroke="#ff00ff" stroke-width="1.15"/>
<rect x="445.76" y="387.90" width="1" height="1" fill="#ff00ff"/>
<path d="M75.67 333.80 L83.23 333.80 L90.80 333.80 L98.36 333.80 L105.92 333.80 L113.48 333.82 L121.05 333.84 L128.61 333.87 L136.17 333.90 L143.74 333.95 L151.30 333.99 L158.86 334.05 L166.43 334.10 L173.99 334.16 L181.55 334.21 L189.12 334.28 L196.68 334.36 L204.24 334.45 L211.80 334.56 L219.37 334.69 L226.93 334.85 L234.49 335.06 L242.06 335.31 L249.62 335.61 L257.18 335.94 L264.75 336.30 L272.31 336.68 L279.87 337.08 L287.43 337.50 L295.00 337.92 L302.56 338.34 L310.12 338.77 L317.69 339.18 L325.25 339.58 L332.81 339.96 L340.38 340.32 L347.94 340.66 L355.50 341.00 L363.06 341.34 L370.63 341.67 L378.19 342.01 L385.75 342.34 L393.32 342.67 L400.88 343.01 L408.44 343.34 L416.00 343.67 L423.57 344.00 L431.13 344.33 L438.69 344.67 L446.26 345.00" fill="none" stroke="#a860f8" stroke-width="0.80" stroke-dasharray="3 1.2"/>
<path d="M75.67 329.70 L73.32 334.30 L78.02 334.30 Z" fill="#a860f8" fill-opacity="0.12" stroke="#a860f8" stroke-width="1.00" stroke-linejoin="miter"/>
<rect x="75.17" y="332.00" width="1" height="1" fill="#a860f8"/>
<path d="M83.23 329.70 L80.88 334.30 L85.58 334.30 Z" fill="#a860f8" fill-opacity="0.12" stroke="#a860f8" stroke-width="1.00" stroke-linejoin="miter"/>
<rect x="82.73" y="332.00" width="1" height="1" fill="#a860f8"/>
<path d="M90.80 329.70 L88.45 334.30 L93.15 334.30 Z" fill="#a860f8" fill-opacity="0.12" stroke="#a860f8" stroke-width="1.00" stroke-linejoin="miter"/>
<rect x="90.30" y="332.00" width="1" height="1" fill="#a860f8"/>
<path d="M98.36 329.70 L96.01 334.30 L100.71 334.30 Z" fill="#a860f8" fill-opacity="0.12" stroke="#a860f8" stroke-width="1.00" stroke-linejoin="miter"/>
<rect x="97.86" y="332.00" width="1" height="1" fill="#a860f8"/>
<path d="M105.92 329.70 L103.57 334.30 L108.27 334.30 Z" fill="#a860f8" fill-opacity="0.12" stroke="#a860f8" stroke-width="1.00" stroke-linejoin="miter"/>
<rect x="105.42" y="332.00" width="1" height="1" fill="#a860f8"/>
<path d="M113.48 329.72 L111.14 334.32 L115.83 334.32 Z" fill="#a860f8" fill-opacity="0.12" stroke="#a860f8" stroke-width="1.00" stroke-linejoin="miter"/>
<rect x="112.98" y="332.02" width="1" height="1" fill="#a860f8"/>
<path d="M121.05 329.74 L118.70 334.34 L123.40 334.34 Z" fill="#a860f8" fill-opacity="0.12" stroke="#a860f8" stroke-width="1.00" stroke-linejoin="miter"/>
<rect x="120.55" y="332.04" width="1" height="1" fill="#a860f8"/>
<path d="M128.61 329.77 L126.26 334.37 L130.96 334.37 Z" fill="#a860f8" fill-opacity="0.12" stroke="#a860f8" stroke-width="1.00" stroke-linejoin="miter"/>
<rect x="128.11" y="332.07" width="1" height="1" fill="#a860f8"/>
<path d="M136.17 329.80 L133.82 334.40 L138.52 334.40 Z" fill="#a860f8" fill-opacity="0.12" stroke="#a860f8" stroke-width="1.00" stroke-linejoin="miter"/>
<rect x="135.67" y="332.10" width="1" height="1" fill="#a860f8"/>
<path d="M143.74 329.85 L141.39 334.45 L146.09 334.45 Z" fill="#a860f8" fill-opacity="0.12" stroke="#a860f8" stroke-width="1.00" stroke-linejoin="miter"/>
<rect x="143.24" y="332.15" width="1" height="1" fill="#a860f8"/>
<path d="M151.30 329.89 L148.95 334.49 L153.65 334.49 Z" fill="#a860f8" fill-opacity="0.12" stroke="#a860f8" stroke-width="1.00" stroke-linejoin="miter"/>
<rect x="150.80" y="332.19" width="1" height="1" fill="#a860f8"/>
<path d="M158.86 329.95 L156.51 334.55 L161.21 334.55 Z" fill="#a860f8" fill-opacity="0.12" stroke="#a860f8" stroke-width="1.00" stroke-linejoin="miter"/>
<rect x="158.36" y="332.25" width="1" height="1" fill="#a860f8"/>
<path d="M166.43 330.00 L164.08 334.60 L168.78 334.60 Z" fill="#a860f8" fill-opacity="0.12" stroke="#a860f8" stroke-width="1.00" stroke-linejoin="miter"/>
<rect x="165.93" y="332.30" width="1" height="1" fill="#a860f8"/>
<path d="M173.99 330.06 L171.64 334.66 L176.34 334.66 Z" fill="#a860f8" fill-opacity="0.12" stroke="#a860f8" stroke-width="1.00" stroke-linejoin="miter"/>
<rect x="173.49" y="332.36" width="1" height="1" fill="#a860f8"/>
<path d="M181.55 330.11 L179.20 334.71 L183.90 334.71 Z" fill="#a860f8" fill-opacity="0.12" stroke="#a860f8" stroke-width="1.00" stroke-linejoin="miter"/>
<rect x="181.05" y="332.41" width="1" height="1" fill="#a860f8"/>
<path d="M189.12 330.18 L186.77 334.78 L191.47 334.78 Z" fill="#a860f8" fill-opacity="0.12" stroke="#a860f8" stroke-width="1.00" stroke-linejoin="miter"/>
<rect x="188.62" y="332.48" width="1" height="1" fill="#a860f8"/>
<path d="M196.68 330.26 L194.33 334.86 L199.03 334.86 Z" fill="#a860f8" fill-opacity="0.12" stroke="#a860f8" stroke-width="1.00" stroke-linejoin="miter"/>
<rect x="196.18" y="332.56" width="1" height="1" fill="#a860f8"/>
<path d="M204.24 330.35 L201.89 334.95 L206.59 334.95 Z" fill="#a860f8" fill-opacity="0.12" stroke="#a860f8" stroke-width="1.00" stroke-linejoin="miter"/>
<rect x="203.74" y="332.65" width="1" height="1" fill="#a860f8"/>
<path d="M211.80 330.46 L209.45 335.06 L214.15 335.06 Z" fill="#a860f8" fill-opacity="0.12" stroke="#a860f8" stroke-width="1.00" stroke-linejoin="miter"/>
<rect x="211.30" y="332.76" width="1" height="1" fill="#a860f8"/>
<path d="M219.37 330.59 L217.02 335.19 L221.72 335.19 Z" fill="#a860f8" fill-opacity="0.12" stroke="#a860f8" stroke-width="1.00" stroke-linejoin="miter"/>
<rect x="218.87" y="332.89" width="1" height="1" fill="#a860f8"/>
<path d="M226.93 330.75 L224.58 335.35 L229.28 335.35 Z" fill="#a860f8" fill-opacity="0.12" stroke="#a860f8" stroke-width="1.00" stroke-linejoin="miter"/>
<rect x="226.43" y="333.05" width="1" height="1" fill="#a860f8"/>
<path d="M234.49 330.96 L232.14 335.56 L236.84 335.56 Z" fill="#a860f8" fill-opacity="0.12" stroke="#a860f8" stroke-width="1.00" stroke-linejoin="miter"/>
<rect x="233.99" y="333.26" width="1" height="1" fill="#a860f8"/>
<path d="M242.06 331.21 L239.71 335.81 L244.41 335.81 Z" fill="#a860f8" fill-opacity="0.12" stroke="#a860f8" stroke-width="1.00" stroke-linejoin="miter"/>
<rect x="241.56" y="333.51" width="1" height="1" fill="#a860f8"/>
<path d="M249.62 331.51 L247.27 336.11 L251.97 336.11 Z" fill="#a860f8" fill-opacity="0.12" stroke="#a860f8" stroke-width="1.00" stroke-linejoin="miter"/>
<rect x="249.12" y="333.81" width="1" height="1" fill="#a860f8"/>
<path d="M257.18 331.84 L254.83 336.44 L259.53 336.44 Z" fill="#a860f8" fill-opacity="0.12" stroke="#a860f8" stroke-width="1.00" stroke-linejoin="miter"/>
<rect x="256.68" y="334.14" width="1" height="1" fill="#a860f8"/>
<path d="M264.75 332.20 L262.39 336.80 L267.10 336.80 Z" fill="#a860f8" fill-opacity="0.12" stroke="#a860f8" stroke-width="1.00" stroke-linejoin="miter"/>
<rect x="264.25" y="334.50" width="1" height="1" fill="#a860f8"/>
<path d="M272.31 332.58 L269.96 337.18 L274.66 337.18 Z" fill="#a860f8" fill-opacity="0.12" stroke="#a860f8" stroke-width="1.00" stroke-linejoin="miter"/>
<rect x="271.81" y="334.88" width="1" height="1" fill="#a860f8"/>
<path d="M279.87 332.98 L277.52 337.58 L282.22 337.58 Z" fill="#a860f8" fill-opacity="0.12" stroke="#a860f8" stroke-width="1.00" stroke-linejoin="miter"/>
<rect x="279.37" y="335.28" width="1" height="1" fill="#a860f8"/>
<path d="M287.43 333.40 L285.08 338.00 L289.78 338.00 Z" fill="#a860f8" fill-opacity="0.12" stroke="#a860f8" stroke-width="1.00" stroke-linejoin="miter"/>
<rect x="286.93" y="335.70" width="1" height="1" fill="#a860f8"/>
<path d="M295.00 333.82 L292.65 338.42 L297.35 338.42 Z" fill="#a860f8" fill-opacity="0.12" stroke="#a860f8" stroke-width="1.00" stroke-linejoin="miter"/>
<rect x="294.50" y="336.12" width="1" height="1" fill="#a860f8"/>
<path d="M302.56 334.24 L300.21 338.84 L304.91 338.84 Z" fill="#a860f8" fill-opacity="0.12" stroke="#a860f8" stroke-width="1.00" stroke-linejoin="miter"/>
<rect x="302.06" y="336.54" width="1" height="1" fill="#a860f8"/>
<path d="M310.12 334.67 L307.77 339.27 L312.47 339.27 Z" fill="#a860f8" fill-opacity="0.12" stroke="#a860f8" stroke-width="1.00" stroke-linejoin="miter"/>
<rect x="309.62" y="336.97" width="1" height="1" fill="#a860f8"/>
<path d="M317.69 335.08 L315.34 339.68 L320.04 339.68 Z" fill="#a860f8" fill-opacity="0.12" stroke="#a860f8" stroke-width="1.00" stroke-linejoin="miter"/>
<rect x="317.19" y="337.38" width="1" height="1" fill="#a860f8"/>
<path d="M325.25 335.48 L322.90 340.08 L327.60 340.08 Z" fill="#a860f8" fill-opacity="0.12" stroke="#a860f8" stroke-width="1.00" stroke-linejoin="miter"/>
<rect x="324.75" y="337.78" width="1" height="1" fill="#a860f8"/>
<path d="M332.81 335.86 L330.46 340.46 L335.16 340.46 Z" fill="#a860f8" fill-opacity="0.12" stroke="#a860f8" stroke-width="1.00" stroke-linejoin="miter"/>
<rect x="332.31" y="338.16" width="1" height="1" fill="#a860f8"/>
<path d="M340.38 336.22 L338.02 340.82 L342.73 340.82 Z" fill="#a860f8" fill-opacity="0.12" stroke="#a860f8" stroke-width="1.00" stroke-linejoin="miter"/>
<rect x="339.88" y="338.52" width="1" height="1" fill="#a860f8"/>
<path d="M347.94 336.56 L345.59 341.16 L350.29 341.16 Z" fill="#a860f8" fill-opacity="0.12" stroke="#a860f8" stroke-width="1.00" stroke-linejoin="miter"/>
<rect x="347.44" y="338.86" width="1" height="1" fill="#a860f8"/>
<path d="M355.50 336.90 L353.15 341.50 L357.85 341.50 Z" fill="#a860f8" fill-opacity="0.12" stroke="#a860f8" stroke-width="1.00" stroke-linejoin="miter"/>
<rect x="355.00" y="339.20" width="1" height="1" fill="#a860f8"/>
<path d="M363.06 337.24 L360.71 341.84 L365.41 341.84 Z" fill="#a860f8" fill-opacity="0.12" stroke="#a860f8" stroke-width="1.00" stroke-linejoin="miter"/>
<rect x="362.56" y="339.54" width="1" height="1" fill="#a860f8"/>
<path d="M370.63 337.57 L368.28 342.17 L372.98 342.17 Z" fill="#a860f8" fill-opacity="0.12" stroke="#a860f8" stroke-width="1.00" stroke-linejoin="miter"/>
<rect x="370.13" y="339.87" width="1" height="1" fill="#a860f8"/>
<path d="M378.19 337.91 L375.84 342.51 L380.54 342.51 Z" fill="#a860f8" fill-opacity="0.12" stroke="#a860f8" stroke-width="1.00" stroke-linejoin="miter"/>
<rect x="377.69" y="340.21" width="1" height="1" fill="#a860f8"/>
<path d="M385.75 338.24 L383.40 342.84 L388.10 342.84 Z" fill="#a860f8" fill-opacity="0.12" stroke="#a860f8" stroke-width="1.00" stroke-linejoin="miter"/>
<rect x="385.25" y="340.54" width="1" height="1" fill="#a860f8"/>
<path d="M393.32 338.57 L390.97 343.17 L395.67 343.17 Z" fill="#a860f8" fill-opacity="0.12" stroke="#a860f8" stroke-width="1.00" stroke-linejoin="miter"/>
<rect x="392.82" y="340.87" width="1" height="1" fill="#a860f8"/>
<path d="M400.88 338.91 L398.53 343.51 L403.23 343.51 Z" fill="#a860f8" fill-opacity="0.12" stroke="#a860f8" stroke-width="1.00" stroke-linejoin="miter"/>
<rect x="400.38" y="341.21" width="1" height="1" fill="#a860f8"/>
<path d="M408.44 339.24 L406.09 343.84 L410.79 343.84 Z" fill="#a860f8" fill-opacity="0.12" stroke="#a860f8" stroke-width="1.00" stroke-linejoin="miter"/>
<rect x="407.94" y="341.54" width="1" height="1" fill="#a860f8"/>
<path d="M416.00 339.57 L413.65 344.17 L418.36 344.17 Z" fill="#a860f8" fill-opacity="0.12" stroke="#a860f8" stroke-width="1.00" stroke-linejoin="miter"/>
<rect x="415.50" y="341.87" width="1" height="1" fill="#a860f8"/>
<path d="M423.57 339.90 L421.22 344.50 L425.92 344.50 Z" fill="#a860f8" fill-opacity="0.12" stroke="#a860f8" stroke-width="1.00" stroke-linejoin="miter"/>
<rect x="423.07" y="342.20" width="1" height="1" fill="#a860f8"/>
<path d="M431.13 340.23 L428.78 344.83 L433.48 344.83 Z" fill="#a860f8" fill-opacity="0.12" stroke="#a860f8" stroke-width="1.00" stroke-linejoin="miter"/>
<rect x="430.63" y="342.53" width="1" height="1" fill="#a860f8"/>
<path d="M438.69 340.57 L436.34 345.17 L441.04 345.17 Z" fill="#a860f8" fill-opacity="0.12" stroke="#a860f8" stroke-width="1.00" stroke-linejoin="miter"/>
<rect x="438.19" y="342.87" width="1" height="1" fill="#a860f8"/>
<path d="M446.26 340.90 L443.91 345.50 L448.61 345.50 Z" fill="#a860f8" fill-opacity="0.12" stroke="#a860f8" stroke-width="1.00" stroke-linejoin="miter"/>
<rect x="445.76" y="343.20" width="1" height="1" fill="#a860f8"/>
<path d="M75.67 431.00 L83.23 431.07 L90.80 431.13 L98.36 431.19 L105.92 431.25 L113.48 431.31 L121.05 431.37 L128.61 431.43 L136.17 431.50 L143.74 431.57 L151.30 431.65 L158.86 431.74 L166.43 431.83 L173.99 431.94 L181.55 432.06 L189.12 432.20 L196.68 432.34 L204.24 432.48 L211.80 432.63 L219.37 432.79 L226.93 432.94 L234.49 433.10 L242.06 433.26 L249.62 433.43 L257.18 433.61 L264.75 433.81 L272.31 434.02 L279.87 434.25 L287.43 434.51 L295.00 434.80 L302.56 435.13 L310.12 435.48 L317.69 435.85 L325.25 436.24 L332.81 436.63 L340.38 437.02 L347.94 437.42 L355.50 437.84 L363.06 438.28 L370.63 438.74 L378.19 439.19 L385.75 439.65 L393.32 440.11 L400.88 440.55 L408.44 440.99 L416.00 441.43 L423.57 441.88 L431.13 442.32 L438.69 442.76 L446.26 443.20" fill="none" stroke="#a52a2a" stroke-width="0.90" stroke-dasharray="1.4 0.9"/>
<path d="M75.67 428.15 L78.52 431.00 L75.67 433.85 L72.82 431.00 Z" fill="#a52a2a" fill-opacity="0.2" stroke="#a52a2a" stroke-width="1.15"/>
<rect x="75.17" y="430.50" width="1" height="1" fill="#a52a2a"/>
<path d="M83.23 428.22 L86.08 431.07 L83.23 433.92 L80.38 431.07 Z" fill="#a52a2a" fill-opacity="0.2" stroke="#a52a2a" stroke-width="1.15"/>
<rect x="82.73" y="430.57" width="1" height="1" fill="#a52a2a"/>
<path d="M90.80 428.28 L93.65 431.13 L90.80 433.98 L87.95 431.13 Z" fill="#a52a2a" fill-opacity="0.2" stroke="#a52a2a" stroke-width="1.15"/>
<rect x="90.30" y="430.63" width="1" height="1" fill="#a52a2a"/>
<path d="M98.36 428.34 L101.21 431.19 L98.36 434.04 L95.51 431.19 Z" fill="#a52a2a" fill-opacity="0.2" stroke="#a52a2a" stroke-width="1.15"/>
<rect x="97.86" y="430.69" width="1" height="1" fill="#a52a2a"/>
<path d="M105.92 428.40 L108.77 431.25 L105.92 434.10 L103.07 431.25 Z" fill="#a52a2a" fill-opacity="0.2" stroke="#a52a2a" stroke-width="1.15"/>
<rect x="105.42" y="430.75" width="1" height="1" fill="#a52a2a"/>
<path d="M113.48 428.46 L116.33 431.31 L113.48 434.16 L110.64 431.31 Z" fill="#a52a2a" fill-opacity="0.2" stroke="#a52a2a" stroke-width="1.15"/>
<rect x="112.98" y="430.81" width="1" height="1" fill="#a52a2a"/>
<path d="M121.05 428.52 L123.90 431.37 L121.05 434.22 L118.20 431.37 Z" fill="#a52a2a" fill-opacity="0.2" stroke="#a52a2a" stroke-width="1.15"/>
<rect x="120.55" y="430.87" width="1" height="1" fill="#a52a2a"/>
<path d="M128.61 428.58 L131.46 431.43 L128.61 434.28 L125.76 431.43 Z" fill="#a52a2a" fill-opacity="0.2" stroke="#a52a2a" stroke-width="1.15"/>
<rect x="128.11" y="430.93" width="1" height="1" fill="#a52a2a"/>
<path d="M136.17 428.65 L139.02 431.50 L136.17 434.35 L133.32 431.50 Z" fill="#a52a2a" fill-opacity="0.2" stroke="#a52a2a" stroke-width="1.15"/>
<rect x="135.67" y="431.00" width="1" height="1" fill="#a52a2a"/>
<path d="M143.74 428.72 L146.59 431.57 L143.74 434.42 L140.89 431.57 Z" fill="#a52a2a" fill-opacity="0.2" stroke="#a52a2a" stroke-width="1.15"/>
<rect x="143.24" y="431.07" width="1" height="1" fill="#a52a2a"/>
<path d="M151.30 428.80 L154.15 431.65 L151.30 434.50 L148.45 431.65 Z" fill="#a52a2a" fill-opacity="0.2" stroke="#a52a2a" stroke-width="1.15"/>
<rect x="150.80" y="431.15" width="1" height="1" fill="#a52a2a"/>
<path d="M158.86 428.89 L161.71 431.74 L158.86 434.59 L156.01 431.74 Z" fill="#a52a2a" fill-opacity="0.2" stroke="#a52a2a" stroke-width="1.15"/>
<rect x="158.36" y="431.24" width="1" height="1" fill="#a52a2a"/>
<path d="M166.43 428.98 L169.28 431.83 L166.43 434.68 L163.58 431.83 Z" fill="#a52a2a" fill-opacity="0.2" stroke="#a52a2a" stroke-width="1.15"/>
<rect x="165.93" y="431.33" width="1" height="1" fill="#a52a2a"/>
<path d="M173.99 429.09 L176.84 431.94 L173.99 434.79 L171.14 431.94 Z" fill="#a52a2a" fill-opacity="0.2" stroke="#a52a2a" stroke-width="1.15"/>
<rect x="173.49" y="431.44" width="1" height="1" fill="#a52a2a"/>
<path d="M181.55 429.21 L184.40 432.06 L181.55 434.91 L178.70 432.06 Z" fill="#a52a2a" fill-opacity="0.2" stroke="#a52a2a" stroke-width="1.15"/>
<rect x="181.05" y="431.56" width="1" height="1" fill="#a52a2a"/>
<path d="M189.12 429.35 L191.97 432.20 L189.12 435.05 L186.27 432.20 Z" fill="#a52a2a" fill-opacity="0.2" stroke="#a52a2a" stroke-width="1.15"/>
<rect x="188.62" y="431.70" width="1" height="1" fill="#a52a2a"/>
<path d="M196.68 429.49 L199.53 432.34 L196.68 435.19 L193.83 432.34 Z" fill="#a52a2a" fill-opacity="0.2" stroke="#a52a2a" stroke-width="1.15"/>
<rect x="196.18" y="431.84" width="1" height="1" fill="#a52a2a"/>
<path d="M204.24 429.63 L207.09 432.48 L204.24 435.33 L201.39 432.48 Z" fill="#a52a2a" fill-opacity="0.2" stroke="#a52a2a" stroke-width="1.15"/>
<rect x="203.74" y="431.98" width="1" height="1" fill="#a52a2a"/>
<path d="M211.80 429.78 L214.65 432.63 L211.80 435.48 L208.95 432.63 Z" fill="#a52a2a" fill-opacity="0.2" stroke="#a52a2a" stroke-width="1.15"/>
<rect x="211.30" y="432.13" width="1" height="1" fill="#a52a2a"/>
<path d="M219.37 429.94 L222.22 432.79 L219.37 435.64 L216.52 432.79 Z" fill="#a52a2a" fill-opacity="0.2" stroke="#a52a2a" stroke-width="1.15"/>
<rect x="218.87" y="432.29" width="1" height="1" fill="#a52a2a"/>
<path d="M226.93 430.09 L229.78 432.94 L226.93 435.79 L224.08 432.94 Z" fill="#a52a2a" fill-opacity="0.2" stroke="#a52a2a" stroke-width="1.15"/>
<rect x="226.43" y="432.44" width="1" height="1" fill="#a52a2a"/>
<path d="M234.49 430.25 L237.34 433.10 L234.49 435.95 L231.64 433.10 Z" fill="#a52a2a" fill-opacity="0.2" stroke="#a52a2a" stroke-width="1.15"/>
<rect x="233.99" y="432.60" width="1" height="1" fill="#a52a2a"/>
<path d="M242.06 430.41 L244.91 433.26 L242.06 436.11 L239.21 433.26 Z" fill="#a52a2a" fill-opacity="0.2" stroke="#a52a2a" stroke-width="1.15"/>
<rect x="241.56" y="432.76" width="1" height="1" fill="#a52a2a"/>
<path d="M249.62 430.58 L252.47 433.43 L249.62 436.28 L246.77 433.43 Z" fill="#a52a2a" fill-opacity="0.2" stroke="#a52a2a" stroke-width="1.15"/>
<rect x="249.12" y="432.93" width="1" height="1" fill="#a52a2a"/>
<path d="M257.18 430.76 L260.03 433.61 L257.18 436.46 L254.33 433.61 Z" fill="#a52a2a" fill-opacity="0.2" stroke="#a52a2a" stroke-width="1.15"/>
<rect x="256.68" y="433.11" width="1" height="1" fill="#a52a2a"/>
<path d="M264.75 430.96 L267.60 433.81 L264.75 436.66 L261.89 433.81 Z" fill="#a52a2a" fill-opacity="0.2" stroke="#a52a2a" stroke-width="1.15"/>
<rect x="264.25" y="433.31" width="1" height="1" fill="#a52a2a"/>
<path d="M272.31 431.17 L275.16 434.02 L272.31 436.87 L269.46 434.02 Z" fill="#a52a2a" fill-opacity="0.2" stroke="#a52a2a" stroke-width="1.15"/>
<rect x="271.81" y="433.52" width="1" height="1" fill="#a52a2a"/>
<path d="M279.87 431.40 L282.72 434.25 L279.87 437.10 L277.02 434.25 Z" fill="#a52a2a" fill-opacity="0.2" stroke="#a52a2a" stroke-width="1.15"/>
<rect x="279.37" y="433.75" width="1" height="1" fill="#a52a2a"/>
<path d="M287.43 431.66 L290.28 434.51 L287.43 437.36 L284.58 434.51 Z" fill="#a52a2a" fill-opacity="0.2" stroke="#a52a2a" stroke-width="1.15"/>
<rect x="286.93" y="434.01" width="1" height="1" fill="#a52a2a"/>
<path d="M295.00 431.95 L297.85 434.80 L295.00 437.65 L292.15 434.80 Z" fill="#a52a2a" fill-opacity="0.2" stroke="#a52a2a" stroke-width="1.15"/>
<rect x="294.50" y="434.30" width="1" height="1" fill="#a52a2a"/>
<path d="M302.56 432.28 L305.41 435.13 L302.56 437.98 L299.71 435.13 Z" fill="#a52a2a" fill-opacity="0.2" stroke="#a52a2a" stroke-width="1.15"/>
<rect x="302.06" y="434.63" width="1" height="1" fill="#a52a2a"/>
<path d="M310.12 432.63 L312.97 435.48 L310.12 438.33 L307.27 435.48 Z" fill="#a52a2a" fill-opacity="0.2" stroke="#a52a2a" stroke-width="1.15"/>
<rect x="309.62" y="434.98" width="1" height="1" fill="#a52a2a"/>
<path d="M317.69 433.00 L320.54 435.85 L317.69 438.70 L314.84 435.85 Z" fill="#a52a2a" fill-opacity="0.2" stroke="#a52a2a" stroke-width="1.15"/>
<rect x="317.19" y="435.35" width="1" height="1" fill="#a52a2a"/>
<path d="M325.25 433.39 L328.10 436.24 L325.25 439.09 L322.40 436.24 Z" fill="#a52a2a" fill-opacity="0.2" stroke="#a52a2a" stroke-width="1.15"/>
<rect x="324.75" y="435.74" width="1" height="1" fill="#a52a2a"/>
<path d="M332.81 433.78 L335.66 436.63 L332.81 439.48 L329.96 436.63 Z" fill="#a52a2a" fill-opacity="0.2" stroke="#a52a2a" stroke-width="1.15"/>
<rect x="332.31" y="436.13" width="1" height="1" fill="#a52a2a"/>
<path d="M340.38 434.17 L343.23 437.02 L340.38 439.87 L337.52 437.02 Z" fill="#a52a2a" fill-opacity="0.2" stroke="#a52a2a" stroke-width="1.15"/>
<rect x="339.88" y="436.52" width="1" height="1" fill="#a52a2a"/>
<path d="M347.94 434.57 L350.79 437.42 L347.94 440.27 L345.09 437.42 Z" fill="#a52a2a" fill-opacity="0.2" stroke="#a52a2a" stroke-width="1.15"/>
<rect x="347.44" y="436.92" width="1" height="1" fill="#a52a2a"/>
<path d="M355.50 434.99 L358.35 437.84 L355.50 440.69 L352.65 437.84 Z" fill="#a52a2a" fill-opacity="0.2" stroke="#a52a2a" stroke-width="1.15"/>
<rect x="355.00" y="437.34" width="1" height="1" fill="#a52a2a"/>
<path d="M363.06 435.43 L365.91 438.28 L363.06 441.13 L360.21 438.28 Z" fill="#a52a2a" fill-opacity="0.2" stroke="#a52a2a" stroke-width="1.15"/>
<rect x="362.56" y="437.78" width="1" height="1" fill="#a52a2a"/>
<path d="M370.63 435.89 L373.48 438.74 L370.63 441.59 L367.78 438.74 Z" fill="#a52a2a" fill-opacity="0.2" stroke="#a52a2a" stroke-width="1.15"/>
<rect x="370.13" y="438.24" width="1" height="1" fill="#a52a2a"/>
<path d="M378.19 436.34 L381.04 439.19 L378.19 442.04 L375.34 439.19 Z" fill="#a52a2a" fill-opacity="0.2" stroke="#a52a2a" stroke-width="1.15"/>
<rect x="377.69" y="438.69" width="1" height="1" fill="#a52a2a"/>
<path d="M385.75 436.80 L388.60 439.65 L385.75 442.50 L382.90 439.65 Z" fill="#a52a2a" fill-opacity="0.2" stroke="#a52a2a" stroke-width="1.15"/>
<rect x="385.25" y="439.15" width="1" height="1" fill="#a52a2a"/>
<path d="M393.32 437.26 L396.17 440.11 L393.32 442.96 L390.47 440.11 Z" fill="#a52a2a" fill-opacity="0.2" stroke="#a52a2a" stroke-width="1.15"/>
<rect x="392.82" y="439.61" width="1" height="1" fill="#a52a2a"/>
<path d="M400.88 437.70 L403.73 440.55 L400.88 443.40 L398.03 440.55 Z" fill="#a52a2a" fill-opacity="0.2" stroke="#a52a2a" stroke-width="1.15"/>
<rect x="400.38" y="440.05" width="1" height="1" fill="#a52a2a"/>
<path d="M408.44 438.14 L411.29 440.99 L408.44 443.84 L405.59 440.99 Z" fill="#a52a2a" fill-opacity="0.2" stroke="#a52a2a" stroke-width="1.15"/>
<rect x="407.94" y="440.49" width="1" height="1" fill="#a52a2a"/>
<path d="M416.00 438.58 L418.86 441.43 L416.00 444.28 L413.15 441.43 Z" fill="#a52a2a" fill-opacity="0.2" stroke="#a52a2a" stroke-width="1.15"/>
<rect x="415.50" y="440.93" width="1" height="1" fill="#a52a2a"/>
<path d="M423.57 439.03 L426.42 441.88 L423.57 444.73 L420.72 441.88 Z" fill="#a52a2a" fill-opacity="0.2" stroke="#a52a2a" stroke-width="1.15"/>
<rect x="423.07" y="441.38" width="1" height="1" fill="#a52a2a"/>
<path d="M431.13 439.47 L433.98 442.32 L431.13 445.17 L428.28 442.32 Z" fill="#a52a2a" fill-opacity="0.2" stroke="#a52a2a" stroke-width="1.15"/>
<rect x="430.63" y="441.82" width="1" height="1" fill="#a52a2a"/>
<path d="M438.69 439.91 L441.54 442.76 L438.69 445.61 L435.84 442.76 Z" fill="#a52a2a" fill-opacity="0.2" stroke="#a52a2a" stroke-width="1.15"/>
<rect x="438.19" y="442.26" width="1" height="1" fill="#a52a2a"/>
<path d="M446.26 440.35 L449.11 443.20 L446.26 446.05 L443.41 443.20 Z" fill="#a52a2a" fill-opacity="0.2" stroke="#a52a2a" stroke-width="1.15"/>
<rect x="445.76" y="442.70" width="1" height="1" fill="#a52a2a"/>
<path d="M417.0 70.3 H440.0" stroke="#000" stroke-width="2.6"/>
<path d="M417.0 95.5 H440.0" stroke="#0000ff" stroke-width="1.3" stroke-dasharray="1.05 1.03"/>
<path d="M417.0 120.5 H440.0" stroke="#b02020" stroke-width="1.2" stroke-dasharray="1.7 0.8"/>
<path d="M417.0 145.5 H440.0" stroke="#ff0000" stroke-width="0.6"/>
<rect x="425.95" y="142.95" width="5.10" height="5.10" fill="none" stroke="#ff0000" stroke-width="1.15"/>
<rect x="428.00" y="145.00" width="1" height="1" fill="#ff0000"/>
<path d="M417.0 170.5 H440.0" stroke="#ff00ff" stroke-width="0.8" stroke-dasharray="3 1.2"/>
<circle cx="428.50" cy="170.50" r="2.60" fill="none" stroke="#ff00ff" stroke-width="1.15"/>
<rect x="428.00" y="170.00" width="1" height="1" fill="#ff00ff"/>
<path d="M417.0 195.5 H440.0" stroke="#a860f8" stroke-width="0.8" stroke-dasharray="3 1.2"/>
<path d="M428.50 191.40 L426.15 196.00 L430.85 196.00 Z" fill="#a860f8" fill-opacity="0.12" stroke="#a860f8" stroke-width="1.00" stroke-linejoin="miter"/>
<rect x="428.00" y="193.70" width="1" height="1" fill="#a860f8"/>
<path d="M417.0 220.5 H440.0" stroke="#a52a2a" stroke-width="0.9" stroke-dasharray="1.4 0.9"/>
<path d="M428.50 217.65 L431.35 220.50 L428.50 223.35 L425.65 220.50 Z" fill="#a52a2a" fill-opacity="0.2" stroke="#a52a2a" stroke-width="1.15"/>
<rect x="428.00" y="220.00" width="1" height="1" fill="#a52a2a"/>
<path d="M82.31 454.80 v-2.50 M82.31 50.00 v2.50 M93.12 454.80 v-2.50 M93.12 50.00 v2.50 M103.93 454.80 v-2.50 M103.93 50.00 v2.50 M114.73 454.80 v-2.50 M114.73 50.00 v2.50 M125.54 454.80 v-5.00 M125.54 50.00 v5.00 M136.35 454.80 v-2.50 M136.35 50.00 v2.50 M147.16 454.80 v-2.50 M147.16 50.00 v2.50 M157.97 454.80 v-2.50 M157.97 50.00 v2.50 M168.78 454.80 v-2.50 M168.78 50.00 v2.50 M179.59 454.80 v-5.00 M179.59 50.00 v5.00 M190.39 454.80 v-2.50 M190.39 50.00 v2.50 M201.20 454.80 v-2.50 M201.20 50.00 v2.50 M212.01 454.80 v-2.50 M212.01 50.00 v2.50 M222.82 454.80 v-2.50 M222.82 50.00 v2.50 M233.63 454.80 v-5.00 M233.63 50.00 v5.00 M244.44 454.80 v-2.50 M244.44 50.00 v2.50 M255.25 454.80 v-2.50 M255.25 50.00 v2.50 M266.05 454.80 v-2.50 M266.05 50.00 v2.50 M276.86 454.80 v-2.50 M276.86 50.00 v2.50 M287.67 454.80 v-5.00 M287.67 50.00 v5.00 M298.48 454.80 v-2.50 M298.48 50.00 v2.50 M309.29 454.80 v-2.50 M309.29 50.00 v2.50 M320.10 454.80 v-2.50 M320.10 50.00 v2.50 M330.91 454.80 v-2.50 M330.91 50.00 v2.50 M341.71 454.80 v-5.00 M341.71 50.00 v5.00 M352.52 454.80 v-2.50 M352.52 50.00 v2.50 M363.33 454.80 v-2.50 M363.33 50.00 v2.50 M374.14 454.80 v-2.50 M374.14 50.00 v2.50 M384.95 454.80 v-2.50 M384.95 50.00 v2.50 M395.76 454.80 v-5.00 M395.76 50.00 v5.00 M406.57 454.80 v-2.50 M406.57 50.00 v2.50 M417.37 454.80 v-2.50 M417.37 50.00 v2.50 M428.18 454.80 v-2.50 M428.18 50.00 v2.50 M438.99 454.80 v-2.50 M438.99 50.00 v2.50 M71.50 50.00 h5.00 M449.80 50.00 h-5.00 M71.50 130.96 h5.00 M449.80 130.96 h-5.00 M71.50 106.59 h2.50 M449.80 106.59 h-2.50 M71.50 92.33 h2.50 M449.80 92.33 h-2.50 M71.50 82.22 h2.50 M449.80 82.22 h-2.50 M71.50 74.37 h2.50 M449.80 74.37 h-2.50 M71.50 67.96 h2.50 M449.80 67.96 h-2.50 M71.50 62.54 h2.50 M449.80 62.54 h-2.50 M71.50 57.85 h2.50 M449.80 57.85 h-2.50 M71.50 53.70 h2.50 M449.80 53.70 h-2.50 M71.50 211.92 h5.00 M449.80 211.92 h-5.00 M71.50 187.55 h2.50 M449.80 187.55 h-2.50 M71.50 173.29 h2.50 M449.80 173.29 h-2.50 M71.50 163.18 h2.50 M449.80 163.18 h-2.50 M71.50 155.33 h2.50 M449.80 155.33 h-2.50 M71.50 148.92 h2.50 M449.80 148.92 h-2.50 M71.50 143.50 h2.50 M449.80 143.50 h-2.50 M71.50 138.81 h2.50 M449.80 138.81 h-2.50 M71.50 134.66 h2.50 M449.80 134.66 h-2.50 M71.50 292.88 h5.00 M449.80 292.88 h-5.00 M71.50 268.51 h2.50 M449.80 268.51 h-2.50 M71.50 254.25 h2.50 M449.80 254.25 h-2.50 M71.50 244.14 h2.50 M449.80 244.14 h-2.50 M71.50 236.29 h2.50 M449.80 236.29 h-2.50 M71.50 229.88 h2.50 M449.80 229.88 h-2.50 M71.50 224.46 h2.50 M449.80 224.46 h-2.50 M71.50 219.77 h2.50 M449.80 219.77 h-2.50 M71.50 215.62 h2.50 M449.80 215.62 h-2.50 M71.50 373.84 h5.00 M449.80 373.84 h-5.00 M71.50 349.47 h2.50 M449.80 349.47 h-2.50 M71.50 335.21 h2.50 M449.80 335.21 h-2.50 M71.50 325.10 h2.50 M449.80 325.10 h-2.50 M71.50 317.25 h2.50 M449.80 317.25 h-2.50 M71.50 310.84 h2.50 M449.80 310.84 h-2.50 M71.50 305.42 h2.50 M449.80 305.42 h-2.50 M71.50 300.73 h2.50 M449.80 300.73 h-2.50 M71.50 296.58 h2.50 M449.80 296.58 h-2.50 M71.50 454.80 h5.00 M449.80 454.80 h-5.00 M71.50 430.43 h2.50 M449.80 430.43 h-2.50 M71.50 416.17 h2.50 M449.80 416.17 h-2.50 M71.50 406.06 h2.50 M449.80 406.06 h-2.50 M71.50 398.21 h2.50 M449.80 398.21 h-2.50 M71.50 391.80 h2.50 M449.80 391.80 h-2.50 M71.50 386.38 h2.50 M449.80 386.38 h-2.50 M71.50 381.69 h2.50 M449.80 381.69 h-2.50 M71.50 377.54 h2.50 M449.80 377.54 h-2.50" fill="none" stroke="#383838" stroke-width="1.15"/>
<rect x="71.50" y="50.00" width="378.30" height="404.80" fill="none" stroke="#383838" stroke-width="1.05"/>
<text x="62.00" y="57.50" text-anchor="end" font-size="16.67" font-family="Liberation Sans, sans-serif" fill="#000" >10<tspan font-size="13.34" dy="-8.2">0</tspan><tspan dy="8.2" font-size="1">&#8203;</tspan></text>
<text x="62.00" y="138.46" text-anchor="end" font-size="16.67" font-family="Liberation Sans, sans-serif" fill="#000" >10<tspan font-size="13.34" dy="-8.2">-1</tspan><tspan dy="8.2" font-size="1">&#8203;</tspan></text>
<text x="62.00" y="219.42" text-anchor="end" font-size="16.67" font-family="Liberation Sans, sans-serif" fill="#000" >10<tspan font-size="13.34" dy="-8.2">-2</tspan><tspan dy="8.2" font-size="1">&#8203;</tspan></text>
<text x="62.00" y="300.38" text-anchor="end" font-size="16.67" font-family="Liberation Sans, sans-serif" fill="#000" >10<tspan font-size="13.34" dy="-8.2">-3</tspan><tspan dy="8.2" font-size="1">&#8203;</tspan></text>
<text x="62.00" y="381.34" text-anchor="end" font-size="16.67" font-family="Liberation Sans, sans-serif" fill="#000" >10<tspan font-size="13.34" dy="-8.2">-4</tspan><tspan dy="8.2" font-size="1">&#8203;</tspan></text>
<text x="62.00" y="462.30" text-anchor="end" font-size="16.67" font-family="Liberation Sans, sans-serif" fill="#000" >10<tspan font-size="13.34" dy="-8.2">-5</tspan><tspan dy="8.2" font-size="1">&#8203;</tspan></text>
<text x="74.00" y="477.00" text-anchor="middle" font-size="16.67" font-family="Liberation Sans, sans-serif" fill="#000" >0</text>
<text x="128.04" y="477.00" text-anchor="middle" font-size="16.67" font-family="Liberation Sans, sans-serif" fill="#000" >0.05</text>
<text x="182.09" y="477.00" text-anchor="middle" font-size="16.67" font-family="Liberation Sans, sans-serif" fill="#000" >0.1</text>
<text x="236.13" y="477.00" text-anchor="middle" font-size="16.67" font-family="Liberation Sans, sans-serif" fill="#000" >0.15</text>
<text x="290.17" y="477.00" text-anchor="middle" font-size="16.67" font-family="Liberation Sans, sans-serif" fill="#000" >0.2</text>
<text x="344.21" y="477.00" text-anchor="middle" font-size="16.67" font-family="Liberation Sans, sans-serif" fill="#000" >0.25</text>
<text x="398.26" y="477.00" text-anchor="middle" font-size="16.67" font-family="Liberation Sans, sans-serif" fill="#000" >0.3</text>
<text x="452.30" y="477.00" text-anchor="middle" font-size="16.67" font-family="Liberation Sans, sans-serif" fill="#000" >0.35</text>
<text x="261.30" y="500.30" text-anchor="middle" font-size="16.67" font-family="Liberation Sans, sans-serif" fill="#000" >k<tspan font-size="13.34" dy="5.2">t</tspan><tspan dy="-5.2" font-size="1">&#8203;</tspan> (GeV/c)</text>
<g transform="translate(18.8,252.4) rotate(-90)">
<text x="0.00" y="0.00" text-anchor="middle" font-size="16.67" font-family="Liberation Sans, sans-serif" fill="#000" >d&#963;/d<tspan font-size="13.34" dy="-8.2">2</tspan><tspan dy="8.2" font-size="1">&#8203;</tspan>k<tspan font-size="13.34" dy="5.2">t</tspan><tspan dy="-5.2" font-size="1">&#8203;</tspan> (&#956;b c<tspan font-size="13.34" dy="-8.2">2</tspan><tspan dy="8.2" font-size="1">&#8203;</tspan>/GeV<tspan font-size="13.34" dy="-8.2">2</tspan><tspan dy="8.2" font-size="1">&#8203;</tspan>)</text>
</g>
<text x="260.80" y="31.40" text-anchor="middle" font-size="16.67" font-family="Liberation Sans, sans-serif" fill="#000" >p<tspan font-size="13.34" dy="-8.2">208</tspan><tspan dy="8.2" font-size="1">&#8203;</tspan>Pb, p<tspan font-size="13.34" dy="5.2">lab</tspan><tspan dy="-5.2" font-size="1">&#8203;</tspan>=5.553 GeV/c</text>
<rect x="168.2" y="19.0" width="4.1" height="1.1" fill="#000"/>
<text transform="translate(136.4,96.6) scale(1.25,0.93)" font-size="17.50" font-family="Liberation Serif, serif" fill="#000">&#967;</text>
<text x="145.3" y="101.0" font-size="13.34" font-family="Liberation Sans, sans-serif" fill="#000">c2</text>
<text x="164.60" y="95.70" text-anchor="start" font-size="16.67" font-family="Liberation Sans, sans-serif" fill="#000" >(<tspan font-family="Liberation Serif, serif" font-size="18.00">&#957;</tspan>=0)</text>
<text x="407.00" y="76.10" text-anchor="end" font-size="16.67" font-family="Liberation Sans, sans-serif" fill="#000" >full</text>
<text x="407.00" y="101.10" text-anchor="end" font-size="16.67" font-family="Liberation Sans, sans-serif" fill="#000" >dir.</text>
<text x="407.00" y="126.10" text-anchor="end" font-size="16.67" font-family="Liberation Sans, sans-serif" fill="#000" >int.</text>
<text x="407.00" y="153.60" text-anchor="end" font-size="16.67" font-family="Liberation Sans, sans-serif" fill="#000" >p-resc.</text>
<text x="407.00" y="176.10" text-anchor="end" font-size="16.67" font-family="Liberation Sans, sans-serif" fill="#000" >dia.-resc.</text>
<text x="407.00" y="201.10" text-anchor="end" font-size="16.67" font-family="Liberation Sans, sans-serif" fill="#000" >nondia.-resc.</text>
<text x="407.00" y="226.10" text-anchor="end" font-size="16.67" font-family="Liberation Sans, sans-serif" fill="#000" >(-)int.-resc.</text>
<rect x="358.7" y="140.4" width="4.1" height="1.1" fill="#000"/>
</svg>
</body></html>
